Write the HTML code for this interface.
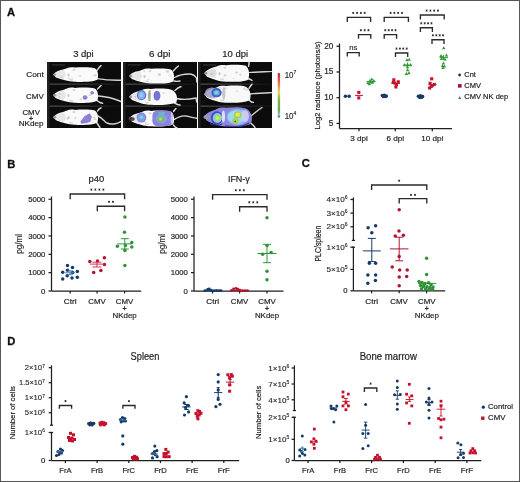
<!DOCTYPE html><html><head><meta charset="utf-8"><style>html,body{margin:0;padding:0;background:#fff;overflow:hidden}svg{display:block;will-change:transform}</style></head><body>
<svg width="520" height="482" viewBox="0 0 520 482" font-family='"Liberation Sans", sans-serif'>
<defs><filter id="bl" x="-10%" y="-10%" width="120%" height="120%"><feGaussianBlur stdDeviation="0.5"/></filter><filter id="bl3" x="-30%" y="-30%" width="160%" height="160%"><feGaussianBlur stdDeviation="0.7"/></filter><filter id="bl4" x="-30%" y="-30%" width="160%" height="160%"><feGaussianBlur stdDeviation="1.1"/></filter><linearGradient id="sepg" x1="0" y1="0" x2="1" y2="0"><stop offset="0" stop-color="#4a4a4a"/><stop offset="0.5" stop-color="#333"/><stop offset="0.85" stop-color="#1a1a1a"/><stop offset="1" stop-color="#141414"/></linearGradient></defs>
<rect x="0" y="0" width="520" height="482" fill="#fff"/>
<text x="7" y="15.7" font-size="11.2" text-anchor="start" font-weight="bold" fill="#111" stroke="#111" stroke-width="0.3">A</text>
<text x="7.2" y="167.6" font-size="11.2" text-anchor="start" font-weight="bold" fill="#111" stroke="#111" stroke-width="0.3">B</text>
<text x="301.8" y="167.2" font-size="11.2" text-anchor="start" font-weight="bold" fill="#111" stroke="#111" stroke-width="0.3">C</text>
<text x="7.2" y="345.1" font-size="11.2" text-anchor="start" font-weight="bold" fill="#111" stroke="#111" stroke-width="0.3">D</text>
<rect x="47" y="62" width="74" height="66" fill="#0c0c0c"/>
<rect x="47" y="62" width="2.5" height="66" fill="#202020"/>
<rect x="49.5" y="83.5" width="71.5" height="1.3" fill="url(#sepg)"/>
<rect x="49.5" y="105.5" width="71.5" height="1.3" fill="url(#sepg)"/>
<rect x="52" y="64.6" width="13" height="0.7" fill="#666" opacity="0.7"/>
<rect x="123" y="62" width="74" height="66" fill="#0c0c0c"/>
<rect x="123" y="62" width="2.5" height="66" fill="#202020"/>
<rect x="125.5" y="83.5" width="71.5" height="1.3" fill="url(#sepg)"/>
<rect x="125.5" y="105.5" width="71.5" height="1.3" fill="url(#sepg)"/>
<rect x="128" y="64.6" width="13" height="0.7" fill="#666" opacity="0.7"/>
<rect x="198" y="62" width="74" height="66" fill="#0c0c0c"/>
<rect x="198" y="62" width="2.5" height="66" fill="#202020"/>
<rect x="200.5" y="83.5" width="71.5" height="1.3" fill="url(#sepg)"/>
<rect x="200.5" y="105.5" width="71.5" height="1.3" fill="url(#sepg)"/>
<rect x="203" y="64.6" width="13" height="0.7" fill="#666" opacity="0.7"/>
<g transform="translate(47 62)">
<path d="M50 16.6 C56 17.6 62 18.4 74 18.2" fill="none" stroke="#d4d4d4" stroke-width="1.4" stroke-linecap="round" filter="url(#bl)"/>
<path d="M50 8.4 L52.5 5 L54 3.6" fill="none" stroke="#d6d6d6" stroke-width="1.5" stroke-linecap="round" filter="url(#bl)"/>
<path d="M5.8 12.6 C7.8 11.0 9 9.45 13 8.26 C16 7.56 18 7.00 20 6.16 C22 5.18 25 5.18 28 5.60 C35 5.11 43 4.97 47.8 6.16 C51.5 8.26 51.8 14.70 50.3 17.85 C46 20.02 36 20.23 28 19.81 C24 19.60 21 19.25 18 18.34 C15 17.64 12 16.80 9 15.54 C7.8 14.2 5.8 12.6 5.8 12.6Z" fill="#fafafa" filter="url(#bl)"/>
<ellipse cx="33.0" cy="14.0" rx="1.6" ry="0.7" fill="#9c9c9c" opacity="0.43" filter="url(#bl)"/>
<ellipse cx="21.4" cy="16.3" rx="1.6" ry="0.8" fill="#9c9c9c" opacity="0.31" filter="url(#bl)"/>
<ellipse cx="14.6" cy="15.1" rx="1.4" ry="0.9" fill="#9c9c9c" opacity="0.29" filter="url(#bl)"/>
<ellipse cx="25.1" cy="16.5" rx="1.4" ry="1.1" fill="#9c9c9c" opacity="0.21" filter="url(#bl)"/>
<ellipse cx="48.2" cy="13.2" rx="1.8" ry="1.2" fill="#9c9c9c" opacity="0.33" filter="url(#bl)"/>
<path d="M5.8 12.6 C9 10.1 13 8.399999999999999 17 7.8 L19 12.6 L17 17.4 C13 16.8 9 15.1 5.8 12.6Z" fill="#9a9a9a" opacity="0.19" filter="url(#bl3)"/>
<ellipse cx="7.5" cy="12.6" rx="1.8" ry="1.2" fill="#555" opacity="0.5" filter="url(#bl)"/>
<ellipse cx="21.5" cy="12.9" rx="1.0" ry="1.6" fill="#888" opacity="0.45" filter="url(#bl)"/>
<ellipse cx="27" cy="7.70" rx="1.6" ry="1" fill="#aaa" opacity="0.45" filter="url(#bl)"/>
<ellipse cx="24" cy="17.85" rx="2" ry="0.9" fill="#aaa" opacity="0.4" filter="url(#bl)"/>
</g>
<g transform="translate(47 84)">
<path d="M51.5 12 C58 12.5 66 14 74 17.5" fill="none" stroke="#d4d4d4" stroke-width="1.4" stroke-linecap="round" filter="url(#bl)"/>
<path d="M50.5 5 L52.5 3 L54 1.5" fill="none" stroke="#d6d6d6" stroke-width="1.5" stroke-linecap="round" filter="url(#bl)"/>
<path d="M50 16.5 L53 18.5 L55.5 19.2" fill="none" stroke="#d6d6d6" stroke-width="1.5" stroke-linecap="round" filter="url(#bl)"/>
<path d="M5.8 11.2 C7.8 9.6 9 7.91 13 6.67 C16 5.94 18 5.36 20 4.48 C22 3.46 25 3.46 28 3.90 C35 3.39 43 3.24 47.8 4.48 C51.5 6.67 51.8 13.39 50.3 16.67 C46 18.94 36 19.16 28 18.72 C24 18.50 21 18.13 18 17.19 C15 16.46 12 15.58 9 14.27 C7.8 12.799999999999999 5.8 11.2 5.8 11.2Z" fill="#fafafa" filter="url(#bl)"/>
<ellipse cx="43.6" cy="10.9" rx="0.9" ry="1.2" fill="#9c9c9c" opacity="0.27" filter="url(#bl)"/>
<ellipse cx="12.5" cy="13.1" rx="1.1" ry="1.0" fill="#9c9c9c" opacity="0.26" filter="url(#bl)"/>
<ellipse cx="42.6" cy="11.0" rx="1.9" ry="0.8" fill="#9c9c9c" opacity="0.27" filter="url(#bl)"/>
<ellipse cx="12.6" cy="10.0" rx="1.2" ry="0.7" fill="#9c9c9c" opacity="0.29" filter="url(#bl)"/>
<ellipse cx="33.8" cy="15.2" rx="1.1" ry="1.2" fill="#9c9c9c" opacity="0.32" filter="url(#bl)"/>
<path d="M5.8 11.2 C9 8.7 13 6.999999999999999 17 6.3999999999999995 L19 11.2 L17 16.0 C13 15.399999999999999 9 13.7 5.8 11.2Z" fill="#9a9a9a" opacity="0.19" filter="url(#bl3)"/>
<ellipse cx="7.5" cy="11.2" rx="1.8" ry="1.2" fill="#555" opacity="0.5" filter="url(#bl)"/>
<ellipse cx="21.5" cy="11.5" rx="1.0" ry="1.6" fill="#888" opacity="0.45" filter="url(#bl)"/>
<ellipse cx="27" cy="6.09" rx="1.6" ry="1" fill="#aaa" opacity="0.45" filter="url(#bl)"/>
<ellipse cx="24" cy="16.67" rx="2" ry="0.9" fill="#aaa" opacity="0.4" filter="url(#bl)"/>
</g>
<g transform="translate(47 106)">
<path d="M51 10 C55 12 57 15 60 17 C64 19 70 18 74 15.5" fill="none" stroke="#d4d4d4" stroke-width="1.4" stroke-linecap="round" filter="url(#bl)"/>
<path d="M50.5 5 L52 3 L54 1.8" fill="none" stroke="#d6d6d6" stroke-width="1.5" stroke-linecap="round" filter="url(#bl)"/>
<path d="M50 17 L51.5 19.5 L53 21.5" fill="none" stroke="#d6d6d6" stroke-width="1.5" stroke-linecap="round" filter="url(#bl)"/>
<path d="M5.8 11.2 C7.8 9.6 9 7.91 13 6.67 C16 5.94 18 5.36 20 4.48 C22 3.46 25 3.46 28 3.90 C35 3.39 43 3.24 47.8 4.48 C51.5 6.67 51.8 13.39 50.3 16.67 C46 18.94 36 19.16 28 18.72 C24 18.50 21 18.13 18 17.19 C15 16.46 12 15.58 9 14.27 C7.8 12.799999999999999 5.8 11.2 5.8 11.2Z" fill="#fafafa" filter="url(#bl)"/>
<ellipse cx="47.0" cy="11.4" rx="1.8" ry="0.6" fill="#9c9c9c" opacity="0.35" filter="url(#bl)"/>
<ellipse cx="41.2" cy="11.7" rx="1.4" ry="0.7" fill="#9c9c9c" opacity="0.34" filter="url(#bl)"/>
<ellipse cx="20.6" cy="12.8" rx="1.3" ry="1.0" fill="#9c9c9c" opacity="0.33" filter="url(#bl)"/>
<ellipse cx="48.0" cy="13.2" rx="1.3" ry="0.6" fill="#9c9c9c" opacity="0.45" filter="url(#bl)"/>
<ellipse cx="28.3" cy="11.9" rx="1.2" ry="1.1" fill="#9c9c9c" opacity="0.33" filter="url(#bl)"/>
<path d="M5.8 11.2 C9 8.7 13 6.999999999999999 17 6.3999999999999995 L19 11.2 L17 16.0 C13 15.399999999999999 9 13.7 5.8 11.2Z" fill="#9a9a9a" opacity="0.19" filter="url(#bl3)"/>
<ellipse cx="7.5" cy="11.2" rx="1.8" ry="1.2" fill="#555" opacity="0.5" filter="url(#bl)"/>
<ellipse cx="21.5" cy="11.5" rx="1.0" ry="1.6" fill="#888" opacity="0.45" filter="url(#bl)"/>
<ellipse cx="27" cy="6.09" rx="1.6" ry="1" fill="#aaa" opacity="0.45" filter="url(#bl)"/>
<ellipse cx="24" cy="16.67" rx="2" ry="0.9" fill="#aaa" opacity="0.4" filter="url(#bl)"/>
</g>
<g transform="translate(123 62)">
<path d="M51.5 15.5 C56 13 60 12 66 12 C70 12 72 13.5 73.5 16 L73.8 20" fill="none" stroke="#d4d4d4" stroke-width="1.4" stroke-linecap="round" filter="url(#bl)"/>
<path d="M50.3 9 L53 6 L55.4 4" fill="none" stroke="#d6d6d6" stroke-width="1.5" stroke-linecap="round" filter="url(#bl)"/>
<path d="M51 19 L54 19.5 L57 19" fill="none" stroke="#d6d6d6" stroke-width="1.5" stroke-linecap="round" filter="url(#bl)"/>
<path d="M5.8 14.0 C7.8 12.4 9 10.76 13 9.54 C16 8.82 18 8.24 20 7.38 C22 6.37 25 6.37 28 6.80 C35 6.30 43 6.15 47.8 7.38 C51.5 9.54 51.8 16.16 50.3 19.40 C46 21.63 36 21.85 28 21.42 C24 21.20 21 20.84 18 19.90 C15 19.18 12 18.32 9 17.02 C7.8 15.6 5.8 14.0 5.8 14.0Z" fill="#fafafa" filter="url(#bl)"/>
<ellipse cx="36.3" cy="12.6" rx="1.7" ry="1.3" fill="#9c9c9c" opacity="0.41" filter="url(#bl)"/>
<ellipse cx="44.5" cy="9.5" rx="1.7" ry="1.2" fill="#9c9c9c" opacity="0.40" filter="url(#bl)"/>
<ellipse cx="46.9" cy="13.5" rx="1.1" ry="1.3" fill="#9c9c9c" opacity="0.23" filter="url(#bl)"/>
<ellipse cx="21.4" cy="9.2" rx="0.8" ry="1.0" fill="#9c9c9c" opacity="0.42" filter="url(#bl)"/>
<ellipse cx="25.2" cy="17.4" rx="1.5" ry="0.7" fill="#9c9c9c" opacity="0.21" filter="url(#bl)"/>
<path d="M5.8 14.0 C9 11.5 13 9.8 17 9.2 L19 14.0 L17 18.8 C13 18.2 9 16.5 5.8 14.0Z" fill="#9a9a9a" opacity="0.19" filter="url(#bl3)"/>
<ellipse cx="7.5" cy="14.0" rx="1.8" ry="1.2" fill="#555" opacity="0.5" filter="url(#bl)"/>
<ellipse cx="21.5" cy="14.3" rx="1.0" ry="1.6" fill="#888" opacity="0.45" filter="url(#bl)"/>
<ellipse cx="27" cy="8.96" rx="1.6" ry="1" fill="#aaa" opacity="0.45" filter="url(#bl)"/>
<ellipse cx="24" cy="19.40" rx="2" ry="0.9" fill="#aaa" opacity="0.4" filter="url(#bl)"/>
</g>
<g transform="translate(123 84)">
<path d="M53 14.5 C60 16 66 15.5 73 14 L73.8 18" fill="none" stroke="#d4d4d4" stroke-width="1.4" stroke-linecap="round" filter="url(#bl)"/>
<path d="M52 6.5 L55 4 L58 2.5" fill="none" stroke="#d6d6d6" stroke-width="1.5" stroke-linecap="round" filter="url(#bl)"/>
<path d="M51.5 19 L54.5 20.5 L57 21" fill="none" stroke="#d6d6d6" stroke-width="1.5" stroke-linecap="round" filter="url(#bl)"/>
<path d="M5.8 12.8 C7.8 11.200000000000001 9 9.29 13 7.96 C16 7.18 18 6.56 20 5.62 C22 4.53 25 4.53 28 5.00 C35 4.45 43 4.30 47.8 5.62 C54.5 7.96 54.8 15.14 53.3 18.65 C46 21.07 36 21.30 28 20.83 C24 20.60 21 20.21 18 19.20 C15 18.42 12 17.48 9 16.08 C7.8 14.4 5.8 12.8 5.8 12.8Z" fill="#fafafa" filter="url(#bl)"/>
<ellipse cx="26.4" cy="16.3" rx="1.9" ry="0.8" fill="#9c9c9c" opacity="0.43" filter="url(#bl)"/>
<ellipse cx="23.3" cy="10.4" rx="1.3" ry="0.9" fill="#9c9c9c" opacity="0.32" filter="url(#bl)"/>
<ellipse cx="22.0" cy="13.7" rx="1.6" ry="0.7" fill="#9c9c9c" opacity="0.37" filter="url(#bl)"/>
<ellipse cx="12.5" cy="12.8" rx="0.8" ry="1.2" fill="#9c9c9c" opacity="0.44" filter="url(#bl)"/>
<ellipse cx="40.5" cy="8.8" rx="1.9" ry="0.7" fill="#9c9c9c" opacity="0.28" filter="url(#bl)"/>
<path d="M5.8 12.8 C9 10.3 13 8.600000000000001 17 8.0 L19 12.8 L17 17.6 C13 17.0 9 15.3 5.8 12.8Z" fill="#9a9a9a" opacity="0.19" filter="url(#bl3)"/>
<ellipse cx="7.5" cy="12.8" rx="1.8" ry="1.2" fill="#555" opacity="0.5" filter="url(#bl)"/>
<ellipse cx="21.5" cy="13.100000000000001" rx="1.0" ry="1.6" fill="#888" opacity="0.45" filter="url(#bl)"/>
<ellipse cx="27" cy="7.34" rx="1.6" ry="1" fill="#aaa" opacity="0.45" filter="url(#bl)"/>
<ellipse cx="24" cy="18.65" rx="2" ry="0.9" fill="#aaa" opacity="0.4" filter="url(#bl)"/>
</g>
<g transform="translate(123 106)">
<path d="M51 13.6 C55 11 60 9.5 63 10 C67 10.5 70 12 74 12.2" fill="none" stroke="#d4d4d4" stroke-width="1.4" stroke-linecap="round" filter="url(#bl)"/>
<path d="M50.5 5.5 L52 3.5 L53 2.5" fill="none" stroke="#d6d6d6" stroke-width="1.5" stroke-linecap="round" filter="url(#bl)"/>
<path d="M50.5 19 L52 21 L54 22" fill="none" stroke="#d6d6d6" stroke-width="1.5" stroke-linecap="round" filter="url(#bl)"/>
<path d="M5.8 12.5 C7.8 10.9 9 9.08 13 7.79 C16 7.03 18 6.42 20 5.51 C22 4.44 25 4.44 28 4.90 C35 4.37 43 4.22 47.8 5.51 C51.5 7.79 51.8 14.78 50.3 18.20 C46 20.56 36 20.78 28 20.33 C24 20.10 21 19.72 18 18.73 C15 17.97 12 17.06 9 15.69 C7.8 14.1 5.8 12.5 5.8 12.5Z" fill="#fafafa" filter="url(#bl)"/>
<ellipse cx="35.8" cy="15.9" rx="1.8" ry="0.7" fill="#9c9c9c" opacity="0.21" filter="url(#bl)"/>
<ellipse cx="32.1" cy="8.3" rx="1.4" ry="0.7" fill="#9c9c9c" opacity="0.42" filter="url(#bl)"/>
<ellipse cx="30.0" cy="14.2" rx="1.8" ry="0.7" fill="#9c9c9c" opacity="0.30" filter="url(#bl)"/>
<ellipse cx="13.9" cy="9.6" rx="1.5" ry="1.1" fill="#9c9c9c" opacity="0.34" filter="url(#bl)"/>
<ellipse cx="22.7" cy="16.6" rx="1.4" ry="0.7" fill="#9c9c9c" opacity="0.35" filter="url(#bl)"/>
<path d="M5.8 12.5 C9 10.0 13 8.3 17 7.7 L19 12.5 L17 17.3 C13 16.7 9 15.0 5.8 12.5Z" fill="#9a9a9a" opacity="0.19" filter="url(#bl3)"/>
<ellipse cx="7.5" cy="12.5" rx="1.8" ry="1.2" fill="#555" opacity="0.5" filter="url(#bl)"/>
<ellipse cx="21.5" cy="12.8" rx="1.0" ry="1.6" fill="#888" opacity="0.45" filter="url(#bl)"/>
<ellipse cx="27" cy="7.18" rx="1.6" ry="1" fill="#aaa" opacity="0.45" filter="url(#bl)"/>
<ellipse cx="24" cy="18.20" rx="2" ry="0.9" fill="#aaa" opacity="0.4" filter="url(#bl)"/>
</g>
<g transform="translate(198 62)">
<path d="M51 10.7 C58 10.2 66 9.5 74 9.2" fill="none" stroke="#d4d4d4" stroke-width="1.4" stroke-linecap="round" filter="url(#bl)"/>
<path d="M50.5 4.5 L51 2 L51.2 0" fill="none" stroke="#d6d6d6" stroke-width="1.5" stroke-linecap="round" filter="url(#bl)"/>
<path d="M50 16.5 L52.5 17.5 L54 18.5" fill="none" stroke="#d6d6d6" stroke-width="1.5" stroke-linecap="round" filter="url(#bl)"/>
<path d="M5.8 11.3 C7.8 9.700000000000001 9 7.66 13 6.28 C16 5.47 18 4.82 20 3.85 C22 2.71 25 2.71 28 3.20 C35 2.63 43 2.47 47.8 3.85 C51.5 6.28 51.8 13.73 50.3 17.38 C46 19.89 36 20.13 28 19.64 C24 19.40 21 19.00 18 17.94 C15 17.13 12 16.16 9 14.70 C7.8 12.9 5.8 11.3 5.8 11.3Z" fill="#f8f8f8" filter="url(#bl)"/>
<ellipse cx="14.0" cy="12.0" rx="1.8" ry="1.1" fill="#9c9c9c" opacity="0.34" filter="url(#bl)"/>
<ellipse cx="35.5" cy="16.5" rx="0.8" ry="0.6" fill="#9c9c9c" opacity="0.39" filter="url(#bl)"/>
<ellipse cx="38.5" cy="10.6" rx="1.6" ry="1.0" fill="#9c9c9c" opacity="0.38" filter="url(#bl)"/>
<ellipse cx="42.4" cy="12.7" rx="1.1" ry="1.1" fill="#9c9c9c" opacity="0.38" filter="url(#bl)"/>
<ellipse cx="27.0" cy="13.4" rx="1.4" ry="1.1" fill="#9c9c9c" opacity="0.41" filter="url(#bl)"/>
<path d="M5.8 11.3 C9 8.8 13 7.1000000000000005 17 6.500000000000001 L19 11.3 L17 16.1 C13 15.5 9 13.8 5.8 11.3Z" fill="#9a9a9a" opacity="0.27" filter="url(#bl3)"/>
<ellipse cx="7.5" cy="11.3" rx="1.8" ry="1.2" fill="#555" opacity="0.5" filter="url(#bl)"/>
<ellipse cx="21.5" cy="11.600000000000001" rx="1.0" ry="1.6" fill="#888" opacity="0.45" filter="url(#bl)"/>
<ellipse cx="27" cy="5.63" rx="1.6" ry="1" fill="#aaa" opacity="0.45" filter="url(#bl)"/>
<ellipse cx="24" cy="17.38" rx="2" ry="0.9" fill="#aaa" opacity="0.4" filter="url(#bl)"/>
</g>
<g transform="translate(198 84)">
<path d="M52 10 C58 9.5 66 9 74 8.5" fill="none" stroke="#d4d4d4" stroke-width="1.4" stroke-linecap="round" filter="url(#bl)"/>
<path d="M51 4.3 L52.5 2 L54 0.2" fill="none" stroke="#d6d6d6" stroke-width="1.5" stroke-linecap="round" filter="url(#bl)"/>
<path d="M51 16 L53.5 18 L55.5 18.5" fill="none" stroke="#d6d6d6" stroke-width="1.5" stroke-linecap="round" filter="url(#bl)"/>
<path d="M5.8 10.2 C7.8 8.6 9 6.51 13 5.12 C16 4.30 18 3.64 20 2.66 C22 1.51 25 1.51 28 2.00 C35 1.43 43 1.26 47.8 2.66 C53 5.12 53.3 12.66 51.8 16.35 C46 18.89 36 19.14 28 18.65 C24 18.40 21 17.99 18 16.92 C15 16.10 12 15.12 9 13.64 C7.8 11.799999999999999 5.8 10.2 5.8 10.2Z" fill="#f8f8f8" filter="url(#bl)"/>
<ellipse cx="48.9" cy="5.7" rx="1.8" ry="1.1" fill="#9c9c9c" opacity="0.26" filter="url(#bl)"/>
<ellipse cx="21.9" cy="4.2" rx="1.4" ry="1.3" fill="#9c9c9c" opacity="0.21" filter="url(#bl)"/>
<ellipse cx="17.8" cy="11.7" rx="1.8" ry="0.8" fill="#9c9c9c" opacity="0.35" filter="url(#bl)"/>
<ellipse cx="38.9" cy="7.2" rx="0.9" ry="0.6" fill="#9c9c9c" opacity="0.41" filter="url(#bl)"/>
<ellipse cx="46.5" cy="4.7" rx="1.4" ry="1.4" fill="#9c9c9c" opacity="0.26" filter="url(#bl)"/>
<path d="M5.8 10.2 C9 7.699999999999999 13 5.999999999999999 17 5.3999999999999995 L19 10.2 L17 15.0 C13 14.399999999999999 9 12.7 5.8 10.2Z" fill="#9a9a9a" opacity="0.27" filter="url(#bl3)"/>
<ellipse cx="7.5" cy="10.2" rx="1.8" ry="1.2" fill="#555" opacity="0.5" filter="url(#bl)"/>
<ellipse cx="21.5" cy="10.5" rx="1.0" ry="1.6" fill="#888" opacity="0.45" filter="url(#bl)"/>
<ellipse cx="27" cy="4.46" rx="1.6" ry="1" fill="#aaa" opacity="0.45" filter="url(#bl)"/>
<ellipse cx="24" cy="16.35" rx="2" ry="0.9" fill="#aaa" opacity="0.4" filter="url(#bl)"/>
</g>
<g transform="translate(198 106)">
<path d="M53 10 C57 7 60 4 64 1.5" fill="none" stroke="#d4d4d4" stroke-width="1.4" stroke-linecap="round" filter="url(#bl)"/>
<path d="M52 16.5 L55 19 L57 21.5" fill="none" stroke="#d6d6d6" stroke-width="1.5" stroke-linecap="round" filter="url(#bl)"/>
<path d="M5.8 11.0 C7.8 9.4 9 7.13 13 5.67 C16 4.81 18 4.12 20 3.09 C22 1.88 25 1.88 28 2.40 C35 1.80 43 1.63 47.8 3.09 C54 5.67 54.3 13.58 52.8 17.45 C46 20.12 36 20.37 28 19.86 C24 19.60 21 19.17 18 18.05 C15 17.19 12 16.16 9 14.61 C7.8 12.6 5.8 11.0 5.8 11.0Z" fill="#f0f0f0" filter="url(#bl)"/>
<ellipse cx="36.0" cy="15.1" rx="1.1" ry="0.6" fill="#9c9c9c" opacity="0.20" filter="url(#bl)"/>
<ellipse cx="15.0" cy="10.5" rx="1.7" ry="1.3" fill="#9c9c9c" opacity="0.38" filter="url(#bl)"/>
<ellipse cx="14.0" cy="13.6" rx="1.4" ry="1.0" fill="#9c9c9c" opacity="0.30" filter="url(#bl)"/>
<ellipse cx="36.0" cy="15.1" rx="1.6" ry="1.2" fill="#9c9c9c" opacity="0.20" filter="url(#bl)"/>
<ellipse cx="46.9" cy="13.8" rx="1.8" ry="1.3" fill="#9c9c9c" opacity="0.40" filter="url(#bl)"/>
<path d="M5.8 11.0 C9 8.5 13 6.8 17 6.2 L19 11.0 L17 15.8 C13 15.2 9 13.5 5.8 11.0Z" fill="#9a9a9a" opacity="0.18" filter="url(#bl3)"/>
<ellipse cx="7.5" cy="11.0" rx="1.8" ry="1.2" fill="#555" opacity="0.5" filter="url(#bl)"/>
<ellipse cx="21.5" cy="11.3" rx="1.0" ry="1.6" fill="#888" opacity="0.45" filter="url(#bl)"/>
<ellipse cx="27" cy="4.98" rx="1.6" ry="1" fill="#aaa" opacity="0.45" filter="url(#bl)"/>
<ellipse cx="24" cy="17.45" rx="2" ry="0.9" fill="#aaa" opacity="0.4" filter="url(#bl)"/>
</g>
<ellipse cx="85.10" cy="97.50" rx="2.4" ry="2.2" fill="#8a82d8" opacity="1.0" filter="url(#bl3)"/>
<ellipse cx="92.20" cy="92.80" rx="1.9" ry="1.7" fill="#8a82d8" opacity="1.0" filter="url(#bl3)"/>
<path d="M80.4 121.5 L84.7 116 L89.7 113.2 L91.8 116.7 L90.4 121.7 L86.8 123.1 L81.1 123.8Z" fill="#8a82d8" filter="url(#bl3)"/>
<ellipse cx="141.50" cy="95.20" rx="4.6" ry="5.1" fill="#5a6ed4" opacity="1.0" filter="url(#bl3)"/>
<ellipse cx="141.50" cy="95.20" rx="3.4" ry="3.9" fill="#84b2ea" opacity="1.0" filter="url(#bl3)"/>
<ellipse cx="141.20" cy="94.90" rx="1.8" ry="2.0" fill="#9ccaf0" opacity="1.0" filter="url(#bl3)"/>
<ellipse cx="149.40" cy="95.80" rx="1.4" ry="5.4" fill="#8c9480" opacity="0.75" filter="url(#bl3)"/>
<ellipse cx="157.00" cy="95.80" rx="3.4" ry="5.0" fill="#7a72d2" opacity="1.0" filter="url(#bl3)"/>
<ellipse cx="131.50" cy="119.00" rx="3.2" ry="2.0" fill="#3a3030" opacity="0.85" filter="url(#bl3)"/>
<ellipse cx="141.50" cy="117.60" rx="4.8" ry="5.0" fill="#8a84dc" opacity="1.0" filter="url(#bl3)"/>
<ellipse cx="141.50" cy="117.60" rx="3.4" ry="3.6" fill="#76a6e6" opacity="1.0" filter="url(#bl3)"/>
<ellipse cx="141.30" cy="117.20" rx="1.8" ry="1.8" fill="#8cd0ee" opacity="0.9" filter="url(#bl3)"/>
<rect x="152.4" y="110.8" width="20.5" height="15.3" rx="4.5" ry="5" fill="#8a84de" filter="url(#bl3)"/>
<ellipse cx="161.60" cy="113.20" rx="3.5" ry="1.8" fill="#60c0c8" opacity="0.9" filter="url(#bl3)"/>
<ellipse cx="161.50" cy="118.80" rx="5.5" ry="4.6" fill="#8aa4e6" opacity="0.9" filter="url(#bl3)"/>
<ellipse cx="160.80" cy="118.80" rx="3.4" ry="3.4" fill="#66b890" opacity="1.0" filter="url(#bl3)"/>
<ellipse cx="160.60" cy="118.80" rx="2.0" ry="2.0" fill="#a6cc48" opacity="1.0" filter="url(#bl3)"/>
<ellipse cx="160.40" cy="119.20" rx="1.0" ry="1.0" fill="#d8d840" opacity="1.0" filter="url(#bl3)"/>
<ellipse cx="171.80" cy="118.50" rx="1.2" ry="6.5" fill="#d8d4f0" opacity="0.8" filter="url(#bl3)"/>
<ellipse cx="212.00" cy="92.70" rx="7.0" ry="5.2" fill="#a0a0cc" opacity="0.85" filter="url(#bl3)"/>
<ellipse cx="216.50" cy="92.70" rx="5.2" ry="4.6" fill="#4a56cc" opacity="1.0" filter="url(#bl3)"/>
<ellipse cx="216.50" cy="92.70" rx="3.2" ry="2.8" fill="#5ab8d0" opacity="1.0" filter="url(#bl3)"/>
<ellipse cx="216.30" cy="92.60" rx="1.5" ry="1.4" fill="#88d8d8" opacity="1.0" filter="url(#bl3)"/>
<ellipse cx="223.80" cy="93.50" rx="1.6" ry="6.5" fill="#b0b0b8" opacity="0.7" filter="url(#bl3)"/>
<g transform="translate(198 106)"><path d="M5.8 11.0 C7.8 9.4 9 6.86 13 5.30 C16 4.38 18 3.64 20 2.54 C22 1.25 25 1.25 28 1.80 C35 1.16 43 0.97 47.8 2.54 C54 5.30 54.3 13.76 52.8 17.90 C46 20.75 36 21.03 28 20.48 C24 20.20 21 19.74 18 18.54 C15 17.62 12 16.52 9 14.86 C7.8 12.6 5.8 11.0 5.8 11.0Z" fill="#8a86e2" filter="url(#bl3)"/></g>
<ellipse cx="206.50" cy="117.00" rx="3.0" ry="2.0" fill="#9a9aaa" opacity="0.9" filter="url(#bl3)"/>
<ellipse cx="216.80" cy="117.80" rx="6.0" ry="6.6" fill="#4c44c0" opacity="1.0" filter="url(#bl3)"/>
<ellipse cx="217.30" cy="118.00" rx="4.6" ry="4.9" fill="#72d2e4" opacity="1.0" filter="url(#bl3)"/>
<ellipse cx="217.60" cy="118.10" rx="3.0" ry="3.0" fill="#a8d868" opacity="1.0" filter="url(#bl3)"/>
<ellipse cx="217.60" cy="118.10" rx="1.8" ry="1.8" fill="#e0e448" opacity="1.0" filter="url(#bl3)"/>
<ellipse cx="223.40" cy="116.40" rx="1.7" ry="6.0" fill="#e4e2f4" opacity="0.95" filter="url(#bl3)"/>
<ellipse cx="237.50" cy="117.00" rx="11.0" ry="8.0" fill="#8cb8ee" opacity="1.0" filter="url(#bl3)"/>
<ellipse cx="236.50" cy="117.00" rx="8.5" ry="6.5" fill="#9edcea" opacity="1.0" filter="url(#bl3)"/>
<ellipse cx="245.00" cy="116.00" rx="4.0" ry="6" fill="#d2cef2" opacity="0.85" filter="url(#bl3)"/>
<ellipse cx="237.80" cy="114.70" rx="4.0" ry="3.5" fill="#98d070" opacity="1.0" filter="url(#bl3)"/>
<ellipse cx="237.80" cy="114.70" rx="2.4" ry="2.1" fill="#f0e448" opacity="1.0" filter="url(#bl3)"/>
<ellipse cx="235.50" cy="121.00" rx="3.4" ry="3.0" fill="#98cc68" opacity="1.0" filter="url(#bl3)"/>
<ellipse cx="235.50" cy="121.00" rx="2.0" ry="1.8" fill="#e0d040" opacity="1.0" filter="url(#bl3)"/>
<ellipse cx="235.30" cy="121.40" rx="0.9" ry="0.9" fill="#6a4a18" opacity="1.0" filter="url(#bl3)"/>
<path d="M225 125.8 C234 127 244 126.5 249 123" fill="none" stroke="#3a30a8" stroke-width="1.2" filter="url(#bl)"/>
<path d="M210 123.5 C214 125.5 219 125.5 222 124" fill="none" stroke="#3a30a8" stroke-width="1.0" filter="url(#bl)"/>
<text x="83.45" y="57" font-size="9.3" text-anchor="middle" font-weight="normal" fill="#262626" stroke="#262626" stroke-width="0.2" textLength="20.5" lengthAdjust="spacingAndGlyphs">3 dpi</text>
<text x="159.7" y="57" font-size="9.3" text-anchor="middle" font-weight="normal" fill="#262626" stroke="#262626" stroke-width="0.2" textLength="21.4" lengthAdjust="spacingAndGlyphs">6 dpi</text>
<text x="235.2" y="57" font-size="9.3" text-anchor="middle" font-weight="normal" fill="#262626" stroke="#262626" stroke-width="0.2" textLength="25.8" lengthAdjust="spacingAndGlyphs">10 dpi</text>
<text x="43.7" y="76.7" font-size="8" text-anchor="end" font-weight="normal" fill="#262626" stroke="#262626" stroke-width="0.2" textLength="17.5" lengthAdjust="spacingAndGlyphs">Cont</text>
<text x="43.7" y="98.7" font-size="8" text-anchor="end" font-weight="normal" fill="#262626" stroke="#262626" stroke-width="0.2" textLength="17.6" lengthAdjust="spacingAndGlyphs">CMV</text>
<text x="31.15" y="115.4" font-size="8" text-anchor="middle" font-weight="normal" fill="#262626" stroke="#262626" stroke-width="0.2" textLength="17.5" lengthAdjust="spacingAndGlyphs">CMV</text>
<text x="31.1" y="121.0" font-size="7" text-anchor="middle" font-weight="normal" fill="#262626" stroke="#262626" stroke-width="0.3">+</text>
<text x="31.15" y="125.9" font-size="8" text-anchor="middle" font-weight="normal" fill="#262626" stroke="#262626" stroke-width="0.2" textLength="24.9" lengthAdjust="spacingAndGlyphs">NKdep</text>
<defs><linearGradient id="cs" x1="0" y1="0" x2="0" y2="1"><stop offset="0" stop-color="#b82848"/><stop offset="0.12" stop-color="#d84858"/><stop offset="0.22" stop-color="#dc7840"/><stop offset="0.32" stop-color="#e0a848"/><stop offset="0.43" stop-color="#e8d468"/><stop offset="0.52" stop-color="#a8c450"/><stop offset="0.62" stop-color="#78b048"/><stop offset="0.85" stop-color="#68a860"/><stop offset="0.93" stop-color="#a8c0d8"/><stop offset="1" stop-color="#506890"/></linearGradient></defs>
<rect x="277.7" y="73.2" width="2.4" height="44.3" fill="url(#cs)"/>
<text x="284.7" y="77.6" font-size="8.6" fill="#262626" stroke="#262626" stroke-width="0.15" textLength="11.6" lengthAdjust="spacingAndGlyphs">10<tspan font-size="5.4" dy="-3.9">7</tspan></text>
<text x="284.7" y="118.8" font-size="8.6" fill="#262626" stroke="#262626" stroke-width="0.15" textLength="11.6" lengthAdjust="spacingAndGlyphs">10<tspan font-size="5.4" dy="-3.9">4</tspan></text>
<line x1="339.5" y1="43.6" x2="339.5" y2="128.5" stroke="#1e1e1e" stroke-width="1.25"/>
<line x1="336.5" y1="46.27" x2="339.5" y2="46.27" stroke="#1e1e1e" stroke-width="1.25"/>
<text x="333.3" y="48.67" font-size="8.2" text-anchor="end" font-weight="normal" fill="#262626" stroke="#262626" stroke-width="0.2">20</text>
<line x1="336.5" y1="71.985" x2="339.5" y2="71.985" stroke="#1e1e1e" stroke-width="1.25"/>
<text x="333.3" y="74.385" font-size="8.2" text-anchor="end" font-weight="normal" fill="#262626" stroke="#262626" stroke-width="0.2">15</text>
<line x1="336.5" y1="97.7" x2="339.5" y2="97.7" stroke="#1e1e1e" stroke-width="1.25"/>
<text x="333.3" y="100.10000000000001" font-size="8.2" text-anchor="end" font-weight="normal" fill="#262626" stroke="#262626" stroke-width="0.2">10</text>
<line x1="336.5" y1="123.415" x2="339.5" y2="123.415" stroke="#1e1e1e" stroke-width="1.25"/>
<text x="333.3" y="125.81500000000001" font-size="8.2" text-anchor="end" font-weight="normal" fill="#262626" stroke="#262626" stroke-width="0.2">5</text>
<line x1="339.5" y1="128.5" x2="452" y2="128.5" stroke="#1e1e1e" stroke-width="1.25"/>
<line x1="359" y1="128.5" x2="359" y2="131.2" stroke="#1e1e1e" stroke-width="1.25"/>
<line x1="395.3" y1="128.5" x2="395.3" y2="131.2" stroke="#1e1e1e" stroke-width="1.25"/>
<line x1="432.3" y1="128.5" x2="432.3" y2="131.2" stroke="#1e1e1e" stroke-width="1.25"/>
<text x="359" y="140.6" font-size="8.1" text-anchor="middle" font-weight="normal" fill="#262626" stroke="#262626" stroke-width="0.2">3 dpi</text>
<text x="395.3" y="140.6" font-size="8.1" text-anchor="middle" font-weight="normal" fill="#262626" stroke="#262626" stroke-width="0.2">6 dpi</text>
<text x="432.3" y="140.6" font-size="8.1" text-anchor="middle" font-weight="normal" fill="#262626" stroke="#262626" stroke-width="0.2">10 dpi</text>
<text x="0" y="0" transform="translate(319.9 85.4) rotate(-90)" font-size="8.0" text-anchor="middle" font-weight="normal" fill="#262626" stroke="#262626" stroke-width="0.2" textLength="88" lengthAdjust="spacingAndGlyphs">Log2 radiance (photons/s)</text>
<line x1="345.4" y1="96.2" x2="349.2" y2="96.2" stroke="#163b68" stroke-width="1.0"/>
<circle cx="345.4" cy="96.2" r="1.75" fill="#163b68"/>
<circle cx="349.2" cy="96.2" r="1.75" fill="#163b68"/>
<line x1="355" y1="95.4" x2="363" y2="95.4" stroke="#c4142e" stroke-width="1.0"/>
<rect x="357.25" y="90.85" width="3.1" height="3.1" fill="#c4142e"/>
<rect x="357.25" y="96.35" width="3.1" height="3.1" fill="#c4142e"/>
<path d="M368.00 81.07L369.70 84.13L366.30 84.13Z" fill="#2e9a36"/>
<path d="M370.00 78.87L371.70 81.93L368.30 81.93Z" fill="#2e9a36"/>
<path d="M371.80 77.47L373.50 80.53L370.10 80.53Z" fill="#2e9a36"/>
<path d="M373.80 79.07L375.50 82.13L372.10 82.13Z" fill="#2e9a36"/>
<path d="M369.50 82.07L371.20 85.13L367.80 85.13Z" fill="#2e9a36"/>
<path d="M372.50 80.67L374.20 83.73L370.80 83.73Z" fill="#2e9a36"/>
<path d="M370.80 80.07L372.50 83.13L369.10 83.13Z" fill="#2e9a36"/>
<line x1="366.5" y1="81.5" x2="375.5" y2="81.5" stroke="#2e9a36" stroke-width="0.9"/>
<circle cx="382.3" cy="95.6" r="1.75" fill="#163b68"/>
<circle cx="384.3" cy="95.2" r="1.75" fill="#163b68"/>
<circle cx="386.3" cy="95.9" r="1.75" fill="#163b68"/>
<circle cx="383.4" cy="96.6" r="1.75" fill="#163b68"/>
<circle cx="385.5" cy="96.4" r="1.75" fill="#163b68"/>
<line x1="381" y1="96" x2="387.5" y2="96" stroke="#163b68" stroke-width="0.9"/>
<rect x="392.25" y="78.25" width="3.1" height="3.1" fill="#c4142e"/>
<rect x="396.75" y="80.25" width="3.1" height="3.1" fill="#c4142e"/>
<rect x="393.25" y="81.45" width="3.1" height="3.1" fill="#c4142e"/>
<rect x="394.95" y="82.95" width="3.1" height="3.1" fill="#c4142e"/>
<rect x="394.35" y="85.45" width="3.1" height="3.1" fill="#c4142e"/>
<rect x="391.65" y="80.95" width="3.1" height="3.1" fill="#c4142e"/>
<line x1="391.5" y1="83.5" x2="400" y2="83.5" stroke="#c4142e" stroke-width="0.9"/>
<path d="M407.00 58.07L408.70 61.13L405.30 61.13Z" fill="#2e9a36"/>
<path d="M409.20 57.67L410.90 60.73L407.50 60.73Z" fill="#2e9a36"/>
<path d="M404.60 63.07L406.30 66.13L402.90 66.13Z" fill="#2e9a36"/>
<path d="M407.50 62.87L409.20 65.93L405.80 65.93Z" fill="#2e9a36"/>
<path d="M410.50 63.07L412.20 66.13L408.80 66.13Z" fill="#2e9a36"/>
<path d="M407.40 65.07L409.10 68.13L405.70 68.13Z" fill="#2e9a36"/>
<path d="M407.60 68.07L409.30 71.13L405.90 71.13Z" fill="#2e9a36"/>
<path d="M406.40 71.87L408.10 74.93L404.70 74.93Z" fill="#2e9a36"/>
<path d="M409.00 71.07L410.70 74.13L407.30 74.13Z" fill="#2e9a36"/>
<line x1="403.2" y1="65.2" x2="412" y2="65.2" stroke="#2e9a36" stroke-width="1.0"/>
<line x1="407.6" y1="62.5" x2="407.6" y2="68" stroke="#2e9a36" stroke-width="0.9"/>
<circle cx="418.4" cy="96.3" r="1.75" fill="#163b68"/>
<circle cx="420.5" cy="95.8" r="1.75" fill="#163b68"/>
<circle cx="422.6" cy="96.5" r="1.75" fill="#163b68"/>
<circle cx="419.8" cy="97.4" r="1.75" fill="#163b68"/>
<circle cx="421.8" cy="97.2" r="1.75" fill="#163b68"/>
<line x1="417" y1="96.6" x2="424" y2="96.6" stroke="#163b68" stroke-width="0.9"/>
<rect x="430.15" y="77.25" width="3.1" height="3.1" fill="#c4142e"/>
<rect x="428.55" y="81.75" width="3.1" height="3.1" fill="#c4142e"/>
<rect x="432.75" y="82.85" width="3.1" height="3.1" fill="#c4142e"/>
<rect x="430.65" y="84.05" width="3.1" height="3.1" fill="#c4142e"/>
<rect x="428.05" y="86.45" width="3.1" height="3.1" fill="#c4142e"/>
<rect x="429.65" y="84.95" width="3.1" height="3.1" fill="#c4142e"/>
<line x1="428.5" y1="84.5" x2="436.5" y2="84.5" stroke="#c4142e" stroke-width="0.9"/>
<path d="M443.70 46.17L445.40 49.23L442.00 49.23Z" fill="#2e9a36"/>
<path d="M441.00 53.97L442.70 57.03L439.30 57.03Z" fill="#2e9a36"/>
<path d="M446.50 53.47L448.20 56.53L444.80 56.53Z" fill="#2e9a36"/>
<path d="M443.00 55.47L444.70 58.53L441.30 58.53Z" fill="#2e9a36"/>
<path d="M441.50 56.97L443.20 60.03L439.80 60.03Z" fill="#2e9a36"/>
<path d="M445.00 57.47L446.70 60.53L443.30 60.53Z" fill="#2e9a36"/>
<path d="M443.50 61.47L445.20 64.53L441.80 64.53Z" fill="#2e9a36"/>
<path d="M442.50 63.97L444.20 67.03L440.80 67.03Z" fill="#2e9a36"/>
<path d="M444.50 64.47L446.20 67.53L442.80 67.53Z" fill="#2e9a36"/>
<path d="M443.00 65.97L444.70 69.03L441.30 69.03Z" fill="#2e9a36"/>
<line x1="439.5" y1="57.4" x2="448" y2="57.4" stroke="#2e9a36" stroke-width="1.0"/>
<line x1="443.5" y1="55" x2="443.5" y2="60" stroke="#2e9a36" stroke-width="0.9"/>
<path d="M347.3 21.9V17.3H370.6V21.9" fill="none" stroke="#2a2a2a" stroke-width="1.35"/>
<path d="M353.25 11.85V13.95M352.34 12.38L354.16 13.43M352.34 13.43L354.16 12.38M357.05 11.85V13.95M356.14 12.38L357.96 13.43M356.14 13.43L357.96 12.38M360.85 11.85V13.95M359.94 12.38L361.76 13.43M359.94 13.43L361.76 12.38M364.65 11.85V13.95M363.74 12.38L365.56 13.43M363.74 13.43L365.56 12.38" stroke="#222" stroke-width="0.8" fill="none"/>
<path d="M384.2 21.9V17.3H408.4V21.9" fill="none" stroke="#2a2a2a" stroke-width="1.35"/>
<path d="M390.60 11.85V13.95M389.69 12.38L391.51 13.43M389.69 13.43L391.51 12.38M394.40 11.85V13.95M393.49 12.38L395.31 13.43M393.49 13.43L395.31 12.38M398.20 11.85V13.95M397.29 12.38L399.11 13.43M397.29 13.43L399.11 12.38M402.00 11.85V13.95M401.09 12.38L402.91 13.43M401.09 13.43L402.91 12.38" stroke="#222" stroke-width="0.8" fill="none"/>
<path d="M420.4 19.6V15.0H444.2V19.6" fill="none" stroke="#2a2a2a" stroke-width="1.35"/>
<path d="M426.60 9.55V11.65M425.69 10.07L427.51 11.12M425.69 11.12L427.51 10.07M430.40 9.55V11.65M429.49 10.07L431.31 11.12M429.49 11.12L431.31 10.07M434.20 9.55V11.65M433.29 10.07L435.11 11.12M433.29 11.12L435.11 10.07M438.00 9.55V11.65M437.09 10.07L438.91 11.12M437.09 11.12L438.91 10.07" stroke="#222" stroke-width="0.8" fill="none"/>
<path d="M358.5 38.800000000000004V34.6H370.8V38.800000000000004" fill="none" stroke="#2a2a2a" stroke-width="1.35"/>
<path d="M360.85 29.15V31.25M359.94 29.68L361.76 30.73M359.94 30.73L361.76 29.68M364.65 29.15V31.25M363.74 29.68L365.56 30.73M363.74 30.73L365.56 29.68M368.45 29.15V31.25M367.54 29.68L369.36 30.73M367.54 30.73L369.36 29.68" stroke="#222" stroke-width="0.8" fill="none"/>
<path d="M384.2 38.800000000000004V34.6H396.6V38.800000000000004" fill="none" stroke="#2a2a2a" stroke-width="1.35"/>
<path d="M385.30 29.15V31.25M384.39 29.68L386.21 30.73M384.39 30.73L386.21 29.68M388.70 29.15V31.25M387.79 29.68L389.61 30.73M387.79 30.73L389.61 29.68M392.10 29.15V31.25M391.19 29.68L393.01 30.73M391.19 30.73L393.01 29.68M395.50 29.15V31.25M394.59 29.68L396.41 30.73M394.59 30.73L396.41 29.68" stroke="#222" stroke-width="0.8" fill="none"/>
<path d="M420.4 32.1V27.7H432.4V32.1" fill="none" stroke="#2a2a2a" stroke-width="1.35"/>
<path d="M421.30 22.25V24.35M420.39 22.77L422.21 23.82M420.39 23.82L422.21 22.77M424.70 22.25V24.35M423.79 22.77L425.61 23.82M423.79 23.82L425.61 22.77M428.10 22.25V24.35M427.19 22.77L429.01 23.82M427.19 23.82L429.01 22.77M431.50 22.25V24.35M430.59 22.77L432.41 23.82M430.59 23.82L432.41 22.77" stroke="#222" stroke-width="0.8" fill="none"/>
<path d="M432.0 43.900000000000006V39.7H444.0V43.900000000000006" fill="none" stroke="#2a2a2a" stroke-width="1.35"/>
<path d="M432.90 34.25V36.35M431.99 34.78L433.81 35.83M431.99 35.83L433.81 34.78M436.30 34.25V36.35M435.39 34.78L437.21 35.83M435.39 35.83L437.21 34.78M439.70 34.25V36.35M438.79 34.78L440.61 35.83M438.79 35.83L440.61 34.78M443.10 34.25V36.35M442.19 34.78L444.01 35.83M442.19 35.83L444.01 34.78" stroke="#222" stroke-width="0.8" fill="none"/>
<path d="M347.3 56.6V52.6H359.2V56.6" fill="none" stroke="#2a2a2a" stroke-width="1.35"/>
<text x="353.25" y="50.2" font-size="7.6" text-anchor="middle" font-weight="normal" fill="#333" stroke="#333" stroke-width="0.2">ns</text>
<path d="M395.5 57.0V53.0H407.7V57.0" fill="none" stroke="#2a2a2a" stroke-width="1.35"/>
<path d="M396.50 47.55V49.65M395.59 48.08L397.41 49.12M395.59 49.12L397.41 48.08M399.90 47.55V49.65M398.99 48.08L400.81 49.12M398.99 49.12L400.81 48.08M403.30 47.55V49.65M402.39 48.08L404.21 49.12M402.39 49.12L404.21 48.08M406.70 47.55V49.65M405.79 48.08L407.61 49.12M405.79 49.12L407.61 48.08" stroke="#222" stroke-width="0.8" fill="none"/>
<circle cx="459.6" cy="75" r="1.4" fill="#1a3354"/>
<text x="464.3" y="77.2" font-size="7.5" text-anchor="start" font-weight="normal" fill="#262626" stroke="#262626" stroke-width="0.2" textLength="11.5" lengthAdjust="spacingAndGlyphs">Cnt</text>
<rect x="458.00" y="84.05" width="3.6" height="3.6" fill="#a81038"/>
<text x="464.3" y="88" font-size="7.5" text-anchor="start" font-weight="normal" fill="#262626" stroke="#262626" stroke-width="0.2">CMV</text>
<path d="M459.70 96.35L461.20 99.05L458.20 99.05Z" fill="#2c7a30"/>
<text x="464.3" y="99" font-size="7.5" text-anchor="start" font-weight="normal" fill="#262626" stroke="#262626" stroke-width="0.2" textLength="43.9" lengthAdjust="spacingAndGlyphs">CMV NK dep</text>
<line x1="51.5" y1="196.5" x2="51.5" y2="291" stroke="#1e1e1e" stroke-width="1.25"/>
<line x1="48.5" y1="291.0" x2="51.5" y2="291.0" stroke="#1e1e1e" stroke-width="1.25"/>
<text x="45.4" y="293.6" font-size="8.0" text-anchor="end" font-weight="normal" fill="#262626" stroke="#262626" stroke-width="0.2" textLength="4.3" lengthAdjust="spacingAndGlyphs">0</text>
<line x1="48.5" y1="272.65" x2="51.5" y2="272.65" stroke="#1e1e1e" stroke-width="1.25"/>
<text x="45.4" y="275.25" font-size="8.0" text-anchor="end" font-weight="normal" fill="#262626" stroke="#262626" stroke-width="0.2" textLength="17.2" lengthAdjust="spacingAndGlyphs">1000</text>
<line x1="48.5" y1="254.3" x2="51.5" y2="254.3" stroke="#1e1e1e" stroke-width="1.25"/>
<text x="45.4" y="256.90000000000003" font-size="8.0" text-anchor="end" font-weight="normal" fill="#262626" stroke="#262626" stroke-width="0.2" textLength="17.2" lengthAdjust="spacingAndGlyphs">2000</text>
<line x1="48.5" y1="235.95" x2="51.5" y2="235.95" stroke="#1e1e1e" stroke-width="1.25"/>
<text x="45.4" y="238.54999999999998" font-size="8.0" text-anchor="end" font-weight="normal" fill="#262626" stroke="#262626" stroke-width="0.2" textLength="17.2" lengthAdjust="spacingAndGlyphs">3000</text>
<line x1="48.5" y1="217.6" x2="51.5" y2="217.6" stroke="#1e1e1e" stroke-width="1.25"/>
<text x="45.4" y="220.2" font-size="8.0" text-anchor="end" font-weight="normal" fill="#262626" stroke="#262626" stroke-width="0.2" textLength="17.2" lengthAdjust="spacingAndGlyphs">4000</text>
<line x1="48.5" y1="199.25" x2="51.5" y2="199.25" stroke="#1e1e1e" stroke-width="1.25"/>
<text x="45.4" y="201.85" font-size="8.0" text-anchor="end" font-weight="normal" fill="#262626" stroke="#262626" stroke-width="0.2" textLength="17.2" lengthAdjust="spacingAndGlyphs">5000</text>
<line x1="51.5" y1="291" x2="141.2" y2="291" stroke="#1e1e1e" stroke-width="1.25"/>
<line x1="70.2" y1="291" x2="70.2" y2="293.5" stroke="#1e1e1e" stroke-width="1.25"/>
<line x1="97.1" y1="291" x2="97.1" y2="293.5" stroke="#1e1e1e" stroke-width="1.25"/>
<line x1="124.6" y1="291" x2="124.6" y2="293.5" stroke="#1e1e1e" stroke-width="1.25"/>
<text x="70.2" y="303.9" font-size="8" text-anchor="middle" font-weight="normal" fill="#262626" stroke="#262626" stroke-width="0.2" textLength="12.8" lengthAdjust="spacingAndGlyphs">Ctrl</text>
<text x="97.1" y="303.9" font-size="8" text-anchor="middle" font-weight="normal" fill="#262626" stroke="#262626" stroke-width="0.2" textLength="17.5" lengthAdjust="spacingAndGlyphs">CMV</text>
<text x="124.6" y="303.9" font-size="8" text-anchor="middle" font-weight="normal" fill="#262626" stroke="#262626" stroke-width="0.2" textLength="17.5" lengthAdjust="spacingAndGlyphs">CMV</text>
<text x="124.6" y="311.0" font-size="7" text-anchor="middle" font-weight="normal" fill="#262626" stroke="#262626" stroke-width="0.3">+</text>
<text x="124.6" y="318.2" font-size="8" text-anchor="middle" font-weight="normal" fill="#262626" stroke="#262626" stroke-width="0.2" textLength="24.2" lengthAdjust="spacingAndGlyphs">NKdep</text>
<text x="0" y="0" transform="translate(22.4 243.8) rotate(-90)" font-size="9.4" text-anchor="middle" font-weight="normal" fill="#262626" stroke="#262626" stroke-width="0.2" textLength="20" lengthAdjust="spacingAndGlyphs">pg/ml</text>
<text x="96.4" y="181.5" font-size="9.2" text-anchor="middle" font-weight="normal" fill="#262626" stroke="#262626" stroke-width="0.2" textLength="15.8" lengthAdjust="spacingAndGlyphs">p40</text>
<line x1="194.0" y1="196.5" x2="194.0" y2="291" stroke="#1e1e1e" stroke-width="1.25"/>
<line x1="191.0" y1="291.0" x2="194.0" y2="291.0" stroke="#1e1e1e" stroke-width="1.25"/>
<text x="187.9" y="293.6" font-size="8.0" text-anchor="end" font-weight="normal" fill="#262626" stroke="#262626" stroke-width="0.2" textLength="4.3" lengthAdjust="spacingAndGlyphs">0</text>
<line x1="191.0" y1="272.65" x2="194.0" y2="272.65" stroke="#1e1e1e" stroke-width="1.25"/>
<text x="187.9" y="275.25" font-size="8.0" text-anchor="end" font-weight="normal" fill="#262626" stroke="#262626" stroke-width="0.2" textLength="17.2" lengthAdjust="spacingAndGlyphs">1000</text>
<line x1="191.0" y1="254.3" x2="194.0" y2="254.3" stroke="#1e1e1e" stroke-width="1.25"/>
<text x="187.9" y="256.90000000000003" font-size="8.0" text-anchor="end" font-weight="normal" fill="#262626" stroke="#262626" stroke-width="0.2" textLength="17.2" lengthAdjust="spacingAndGlyphs">2000</text>
<line x1="191.0" y1="235.95" x2="194.0" y2="235.95" stroke="#1e1e1e" stroke-width="1.25"/>
<text x="187.9" y="238.54999999999998" font-size="8.0" text-anchor="end" font-weight="normal" fill="#262626" stroke="#262626" stroke-width="0.2" textLength="17.2" lengthAdjust="spacingAndGlyphs">3000</text>
<line x1="191.0" y1="217.6" x2="194.0" y2="217.6" stroke="#1e1e1e" stroke-width="1.25"/>
<text x="187.9" y="220.2" font-size="8.0" text-anchor="end" font-weight="normal" fill="#262626" stroke="#262626" stroke-width="0.2" textLength="17.2" lengthAdjust="spacingAndGlyphs">4000</text>
<line x1="191.0" y1="199.25" x2="194.0" y2="199.25" stroke="#1e1e1e" stroke-width="1.25"/>
<text x="187.9" y="201.85" font-size="8.0" text-anchor="end" font-weight="normal" fill="#262626" stroke="#262626" stroke-width="0.2" textLength="17.2" lengthAdjust="spacingAndGlyphs">5000</text>
<line x1="194.0" y1="291" x2="283.5" y2="291" stroke="#1e1e1e" stroke-width="1.25"/>
<line x1="212.6" y1="291" x2="212.6" y2="293.5" stroke="#1e1e1e" stroke-width="1.25"/>
<line x1="239.6" y1="291" x2="239.6" y2="293.5" stroke="#1e1e1e" stroke-width="1.25"/>
<line x1="267.0" y1="291" x2="267.0" y2="293.5" stroke="#1e1e1e" stroke-width="1.25"/>
<text x="212.6" y="303.9" font-size="8" text-anchor="middle" font-weight="normal" fill="#262626" stroke="#262626" stroke-width="0.2" textLength="12.8" lengthAdjust="spacingAndGlyphs">Ctrl</text>
<text x="239.6" y="303.9" font-size="8" text-anchor="middle" font-weight="normal" fill="#262626" stroke="#262626" stroke-width="0.2" textLength="17.5" lengthAdjust="spacingAndGlyphs">CMV</text>
<text x="267.0" y="303.9" font-size="8" text-anchor="middle" font-weight="normal" fill="#262626" stroke="#262626" stroke-width="0.2" textLength="17.5" lengthAdjust="spacingAndGlyphs">CMV</text>
<text x="267.0" y="311.0" font-size="7" text-anchor="middle" font-weight="normal" fill="#262626" stroke="#262626" stroke-width="0.3">+</text>
<text x="267.0" y="318.2" font-size="8" text-anchor="middle" font-weight="normal" fill="#262626" stroke="#262626" stroke-width="0.2" textLength="24.2" lengthAdjust="spacingAndGlyphs">NKdep</text>
<text x="0" y="0" transform="translate(164.7 243.8) rotate(-90)" font-size="9.4" text-anchor="middle" font-weight="normal" fill="#262626" stroke="#262626" stroke-width="0.2" textLength="20" lengthAdjust="spacingAndGlyphs">pg/ml</text>
<text x="238.85" y="181.5" font-size="9.2" text-anchor="middle" font-weight="normal" fill="#262626" stroke="#262626" stroke-width="0.2" textLength="21.9" lengthAdjust="spacingAndGlyphs">IFN-γ</text>
<circle cx="67.5" cy="265.4" r="1.75" fill="#163b68"/>
<circle cx="72.5" cy="267.5" r="1.75" fill="#163b68"/>
<circle cx="62.7" cy="272.3" r="1.75" fill="#163b68"/>
<circle cx="67.5" cy="270.2" r="1.75" fill="#163b68"/>
<circle cx="77.3" cy="271.5" r="1.75" fill="#163b68"/>
<circle cx="67.2" cy="275.7" r="1.75" fill="#163b68"/>
<circle cx="72" cy="277.9" r="1.75" fill="#163b68"/>
<circle cx="77.3" cy="277.3" r="1.75" fill="#163b68"/>
<circle cx="62.7" cy="279" r="1.75" fill="#163b68"/>
<circle cx="72.6" cy="272.6" r="1.75" fill="#163b68"/>
<line x1="65.1" y1="272.8" x2="75.1" y2="272.8" stroke="#4a82c0" stroke-width="1.0"/>
<line x1="70.1" y1="270.9" x2="70.1" y2="274.7" stroke="#4a82c0" stroke-width="1.0"/>
<line x1="67.6" y1="270.9" x2="72.6" y2="270.9" stroke="#4a82c0" stroke-width="1.0"/>
<line x1="67.6" y1="274.7" x2="72.6" y2="274.7" stroke="#4a82c0" stroke-width="1.0"/>
<circle cx="89.8" cy="261.5" r="1.75" fill="#b3132f"/>
<circle cx="97.5" cy="261" r="1.75" fill="#b3132f"/>
<circle cx="104.4" cy="257.7" r="1.75" fill="#b3132f"/>
<circle cx="104.4" cy="264.4" r="1.75" fill="#b3132f"/>
<circle cx="93.7" cy="272.5" r="1.75" fill="#b3132f"/>
<circle cx="100.9" cy="270.6" r="1.75" fill="#b3132f"/>
<line x1="89.9" y1="264.1" x2="103.9" y2="264.1" stroke="#d23a58" stroke-width="1.0"/>
<line x1="96.9" y1="262.2" x2="96.9" y2="267" stroke="#d23a58" stroke-width="1.0"/>
<line x1="92.4" y1="262.2" x2="101.4" y2="262.2" stroke="#d23a58" stroke-width="1.0"/>
<line x1="92.4" y1="267" x2="101.4" y2="267" stroke="#d23a58" stroke-width="1.0"/>
<circle cx="124.9" cy="217" r="1.75" fill="#2f9438"/>
<circle cx="124.5" cy="232.3" r="1.75" fill="#2f9438"/>
<circle cx="117.4" cy="246.2" r="1.75" fill="#2f9438"/>
<circle cx="125.4" cy="245.5" r="1.75" fill="#2f9438"/>
<circle cx="131.8" cy="242.6" r="1.75" fill="#2f9438"/>
<circle cx="131.8" cy="247.1" r="1.75" fill="#2f9438"/>
<circle cx="124.9" cy="250.6" r="1.75" fill="#2f9438"/>
<circle cx="124.9" cy="265.6" r="1.75" fill="#2f9438"/>
<line x1="117.3" y1="243.9" x2="132.3" y2="243.9" stroke="#2f9438" stroke-width="1.0"/>
<line x1="124.8" y1="238.7" x2="124.8" y2="249" stroke="#2f9438" stroke-width="1.0"/>
<line x1="120.8" y1="238.7" x2="128.8" y2="238.7" stroke="#2f9438" stroke-width="1.0"/>
<line x1="120.8" y1="249" x2="128.8" y2="249" stroke="#2f9438" stroke-width="1.0"/>
<path d="M70.2 199.3V194.0H124.6V199.3" fill="none" stroke="#2a2a2a" stroke-width="1.35"/>
<path d="M91.40 188.55V190.65M90.49 189.07L92.31 190.12M90.49 190.12L92.31 189.07M95.40 188.55V190.65M94.49 189.07L96.31 190.12M94.49 190.12L96.31 189.07M99.40 188.55V190.65M98.49 189.07L100.31 190.12M98.49 190.12L100.31 189.07M103.40 188.55V190.65M102.49 189.07L104.31 190.12M102.49 190.12L104.31 189.07" stroke="#222" stroke-width="0.8" fill="none"/>
<path d="M97.3 211.29999999999998V206.2H124.6V211.29999999999998" fill="none" stroke="#2a2a2a" stroke-width="1.35"/>
<path d="M108.95 200.75V202.85M108.04 201.27L109.86 202.32M108.04 202.32L109.86 201.27M112.95 200.75V202.85M112.04 201.27L113.86 202.32M112.04 202.32L113.86 201.27" stroke="#222" stroke-width="0.8" fill="none"/>
<circle cx="205" cy="290.6" r="1.45" fill="#163b68"/>
<circle cx="207.6" cy="289.4" r="1.45" fill="#163b68"/>
<circle cx="209.2" cy="289.0" r="1.45" fill="#163b68"/>
<circle cx="211.2" cy="290.2" r="1.45" fill="#163b68"/>
<circle cx="213.8" cy="290.6" r="1.45" fill="#163b68"/>
<circle cx="216.4" cy="290.5" r="1.45" fill="#163b68"/>
<circle cx="219" cy="290.6" r="1.45" fill="#163b68"/>
<circle cx="221" cy="290.6" r="1.45" fill="#163b68"/>
<line x1="204" y1="290.7" x2="222" y2="290.7" stroke="#163b68" stroke-width="1.0"/>
<circle cx="231.5" cy="290.5" r="1.45" fill="#b3132f"/>
<circle cx="233.6" cy="289.0" r="1.45" fill="#b3132f"/>
<circle cx="236" cy="288.4" r="1.45" fill="#b3132f"/>
<circle cx="237.8" cy="289.2" r="1.45" fill="#b3132f"/>
<circle cx="240" cy="290.2" r="1.45" fill="#b3132f"/>
<circle cx="242.5" cy="290.6" r="1.45" fill="#b3132f"/>
<circle cx="245" cy="290.6" r="1.45" fill="#b3132f"/>
<circle cx="247.5" cy="290.6" r="1.45" fill="#b3132f"/>
<line x1="230" y1="290.6" x2="249" y2="290.6" stroke="#b3132f" stroke-width="1.0"/>
<circle cx="267" cy="217.7" r="1.75" fill="#2f9438"/>
<circle cx="267" cy="245.5" r="1.75" fill="#2f9438"/>
<circle cx="262.6" cy="254.2" r="1.75" fill="#2f9438"/>
<circle cx="271.1" cy="252.4" r="1.75" fill="#2f9438"/>
<circle cx="267" cy="271.3" r="1.75" fill="#2f9438"/>
<circle cx="267" cy="279.8" r="1.75" fill="#2f9438"/>
<line x1="257.5" y1="253.5" x2="276.5" y2="253.5" stroke="#2f9438" stroke-width="1.0"/>
<line x1="267" y1="244.4" x2="267" y2="262.7" stroke="#2f9438" stroke-width="1.0"/>
<line x1="263" y1="244.4" x2="271" y2="244.4" stroke="#2f9438" stroke-width="1.0"/>
<line x1="263" y1="262.7" x2="271" y2="262.7" stroke="#2f9438" stroke-width="1.0"/>
<path d="M212.6 199.79999999999998V194.6H267.0V199.79999999999998" fill="none" stroke="#2a2a2a" stroke-width="1.35"/>
<path d="M235.80 189.15V191.25M234.89 189.67L236.71 190.72M234.89 190.72L236.71 189.67M239.80 189.15V191.25M238.89 189.67L240.71 190.72M238.89 190.72L240.71 189.67M243.80 189.15V191.25M242.89 189.67L244.71 190.72M242.89 190.72L244.71 189.67" stroke="#222" stroke-width="0.8" fill="none"/>
<path d="M239.6 211.79999999999998V206.7H267.0V211.79999999999998" fill="none" stroke="#2a2a2a" stroke-width="1.35"/>
<path d="M249.30 201.25V203.35M248.39 201.77L250.21 202.82M248.39 202.82L250.21 201.77M253.30 201.25V203.35M252.39 201.77L254.21 202.82M252.39 202.82L254.21 201.77M257.30 201.25V203.35M256.39 201.77L258.21 202.82M256.39 202.82L258.21 201.77" stroke="#222" stroke-width="0.8" fill="none"/>
<line x1="353.4" y1="197.4" x2="353.4" y2="240.4" stroke="#1e1e1e" stroke-width="1.25"/>
<line x1="351.79999999999995" y1="240.4" x2="355.0" y2="240.4" stroke="#1e1e1e" stroke-width="1.25"/>
<line x1="353.4" y1="247.2" x2="353.4" y2="290.8" stroke="#1e1e1e" stroke-width="1.25"/>
<line x1="351.79999999999995" y1="247.2" x2="355.0" y2="247.2" stroke="#1e1e1e" stroke-width="1.25"/>
<line x1="350.4" y1="199.5" x2="353.4" y2="199.5" stroke="#1e1e1e" stroke-width="1.25"/>
<text x="347.6" y="201.9" font-size="7.8" text-anchor="end" fill="#262626" stroke="#262626" stroke-width="0.12" textLength="21.2" lengthAdjust="spacingAndGlyphs">4×10<tspan font-size="4.84" dy="-2.81">6</tspan></text>
<line x1="350.4" y1="213.1" x2="353.4" y2="213.1" stroke="#1e1e1e" stroke-width="1.25"/>
<text x="347.6" y="215.5" font-size="7.8" text-anchor="end" fill="#262626" stroke="#262626" stroke-width="0.12" textLength="21.2" lengthAdjust="spacingAndGlyphs">3×10<tspan font-size="4.84" dy="-2.81">6</tspan></text>
<line x1="350.4" y1="226.8" x2="353.4" y2="226.8" stroke="#1e1e1e" stroke-width="1.25"/>
<text x="347.6" y="229.20000000000002" font-size="7.8" text-anchor="end" fill="#262626" stroke="#262626" stroke-width="0.12" textLength="21.2" lengthAdjust="spacingAndGlyphs">2×10<tspan font-size="4.84" dy="-2.81">6</tspan></text>
<line x1="350.4" y1="247.2" x2="353.4" y2="247.2" stroke="#1e1e1e" stroke-width="1.25"/>
<text x="347.6" y="249.6" font-size="7.8" text-anchor="end" fill="#262626" stroke="#262626" stroke-width="0.12" textLength="21.2" lengthAdjust="spacingAndGlyphs">1×10<tspan font-size="4.84" dy="-2.81">6</tspan></text>
<line x1="350.4" y1="269.4" x2="353.4" y2="269.4" stroke="#1e1e1e" stroke-width="1.25"/>
<text x="347.6" y="271.79999999999995" font-size="7.8" text-anchor="end" fill="#262626" stroke="#262626" stroke-width="0.12" textLength="21.2" lengthAdjust="spacingAndGlyphs">5×10<tspan font-size="4.84" dy="-2.81">5</tspan></text>
<line x1="350.4" y1="290.8" x2="353.4" y2="290.8" stroke="#1e1e1e" stroke-width="1.25"/>
<text x="347.5" y="293.2" font-size="7.6" text-anchor="end" font-weight="normal" fill="#262626" stroke="#262626" stroke-width="0.2" textLength="4.3" lengthAdjust="spacingAndGlyphs">0</text>
<line x1="353.4" y1="290.8" x2="445.2" y2="290.8" stroke="#1e1e1e" stroke-width="1.25"/>
<line x1="371.6" y1="290.8" x2="371.6" y2="293.3" stroke="#1e1e1e" stroke-width="1.25"/>
<line x1="399.2" y1="290.8" x2="399.2" y2="293.3" stroke="#1e1e1e" stroke-width="1.25"/>
<line x1="426.6" y1="290.8" x2="426.6" y2="293.3" stroke="#1e1e1e" stroke-width="1.25"/>
<text x="371.7" y="303.9" font-size="8" text-anchor="middle" font-weight="normal" fill="#262626" stroke="#262626" stroke-width="0.2" textLength="12.8" lengthAdjust="spacingAndGlyphs">Ctrl</text>
<text x="399.1" y="303.9" font-size="8" text-anchor="middle" font-weight="normal" fill="#262626" stroke="#262626" stroke-width="0.2" textLength="17.5" lengthAdjust="spacingAndGlyphs">CMV</text>
<text x="426.8" y="303.9" font-size="8" text-anchor="middle" font-weight="normal" fill="#262626" stroke="#262626" stroke-width="0.2" textLength="17.5" lengthAdjust="spacingAndGlyphs">CMV</text>
<text x="426.8" y="311.0" font-size="7" text-anchor="middle" font-weight="normal" fill="#262626" stroke="#262626" stroke-width="0.3">+</text>
<text x="426.8" y="318.2" font-size="8" text-anchor="middle" font-weight="normal" fill="#262626" stroke="#262626" stroke-width="0.2" textLength="24.2" lengthAdjust="spacingAndGlyphs">NKdep</text>
<text x="0" y="0" transform="translate(320.6 243.6) rotate(-90)" font-size="8.2" text-anchor="middle" font-weight="normal" fill="#262626" stroke="#262626" stroke-width="0.2" textLength="35.8" lengthAdjust="spacingAndGlyphs">PLC/spleen</text>
<circle cx="368.1" cy="227.7" r="1.75" fill="#163b68"/>
<circle cx="375.6" cy="225.7" r="1.75" fill="#163b68"/>
<circle cx="371.8" cy="232.7" r="1.75" fill="#163b68"/>
<circle cx="369.4" cy="263.3" r="1.75" fill="#163b68"/>
<circle cx="375.6" cy="263.3" r="1.75" fill="#163b68"/>
<circle cx="367.9" cy="275" r="1.75" fill="#163b68"/>
<circle cx="375.6" cy="275" r="1.75" fill="#163b68"/>
<circle cx="367.8" cy="283.3" r="1.75" fill="#163b68"/>
<circle cx="375.4" cy="280.4" r="1.75" fill="#163b68"/>
<line x1="362.8" y1="250.9" x2="380.8" y2="250.9" stroke="#163b68" stroke-width="1.0"/>
<line x1="371.8" y1="238.4" x2="371.8" y2="261.6" stroke="#163b68" stroke-width="1.0"/>
<line x1="367.8" y1="238.4" x2="375.8" y2="238.4" stroke="#163b68" stroke-width="1.0"/>
<line x1="367.8" y1="261.6" x2="375.8" y2="261.6" stroke="#163b68" stroke-width="1.0"/>
<circle cx="399.2" cy="209.8" r="1.75" fill="#b3132f"/>
<circle cx="399" cy="231" r="1.75" fill="#b3132f"/>
<circle cx="395.2" cy="236" r="1.75" fill="#b3132f"/>
<circle cx="403.4" cy="235.2" r="1.75" fill="#b3132f"/>
<circle cx="399.2" cy="256.6" r="1.75" fill="#b3132f"/>
<circle cx="392.2" cy="267" r="1.75" fill="#b3132f"/>
<circle cx="399.7" cy="270" r="1.75" fill="#b3132f"/>
<circle cx="407.2" cy="270" r="1.75" fill="#b3132f"/>
<circle cx="399.2" cy="277" r="1.75" fill="#b3132f"/>
<circle cx="406.7" cy="276.5" r="1.75" fill="#b3132f"/>
<circle cx="399.2" cy="285.7" r="1.75" fill="#b3132f"/>
<line x1="389.9" y1="248.9" x2="408.5" y2="248.9" stroke="#b3132f" stroke-width="1.0"/>
<line x1="399.2" y1="237.2" x2="399.2" y2="260.8" stroke="#b3132f" stroke-width="1.0"/>
<line x1="395.2" y1="237.2" x2="403.2" y2="237.2" stroke="#b3132f" stroke-width="1.0"/>
<line x1="395.2" y1="260.8" x2="403.2" y2="260.8" stroke="#b3132f" stroke-width="1.0"/>
<circle cx="426.6" cy="258.3" r="1.75" fill="#2f9438"/>
<circle cx="426.6" cy="274.5" r="1.75" fill="#2f9438"/>
<circle cx="422" cy="282.5" r="1.75" fill="#2f9438"/>
<circle cx="425" cy="283.5" r="1.75" fill="#2f9438"/>
<circle cx="428.5" cy="282.8" r="1.75" fill="#2f9438"/>
<circle cx="431" cy="284.5" r="1.75" fill="#2f9438"/>
<circle cx="420.5" cy="285.5" r="1.75" fill="#2f9438"/>
<circle cx="423.5" cy="286.5" r="1.75" fill="#2f9438"/>
<circle cx="427" cy="286.8" r="1.75" fill="#2f9438"/>
<circle cx="430" cy="287.5" r="1.75" fill="#2f9438"/>
<circle cx="433" cy="287" r="1.75" fill="#2f9438"/>
<circle cx="421.5" cy="288.8" r="1.75" fill="#2f9438"/>
<circle cx="425.5" cy="289" r="1.75" fill="#2f9438"/>
<circle cx="429" cy="289.2" r="1.75" fill="#2f9438"/>
<circle cx="432.5" cy="289.3" r="1.75" fill="#2f9438"/>
<circle cx="424" cy="284.8" r="1.75" fill="#2f9438"/>
<circle cx="419" cy="281.5" r="1.75" fill="#2f9438"/>
<line x1="418" y1="283.4" x2="436.2" y2="283.4" stroke="#2f9438" stroke-width="1.0"/>
<path d="M371.6 190.0V185.0H426.8V190.0" fill="none" stroke="#2a2a2a" stroke-width="1.35"/>
<path d="M399.20 179.65V181.75M398.29 180.17L400.11 181.22M398.29 181.22L400.11 180.17" stroke="#222" stroke-width="0.8" fill="none"/>
<path d="M399.2 203.6V198.6H426.8V203.6" fill="none" stroke="#2a2a2a" stroke-width="1.35"/>
<path d="M411.00 193.85V195.95M410.09 194.38L411.91 195.43M410.09 195.43L411.91 194.38M415.00 193.85V195.95M414.09 194.38L415.91 195.43M414.09 195.43L415.91 194.38" stroke="#222" stroke-width="0.8" fill="none"/>
<line x1="51.5" y1="365.4" x2="51.5" y2="425.2" stroke="#1e1e1e" stroke-width="1.25"/>
<line x1="49.9" y1="425.2" x2="53.1" y2="425.2" stroke="#1e1e1e" stroke-width="1.25"/>
<line x1="51.5" y1="432.5" x2="51.5" y2="460.5" stroke="#1e1e1e" stroke-width="1.25"/>
<line x1="49.9" y1="432.5" x2="53.1" y2="432.5" stroke="#1e1e1e" stroke-width="1.25"/>
<line x1="48.7" y1="367.7" x2="51.5" y2="367.7" stroke="#1e1e1e" stroke-width="1.25"/>
<text x="44.8" y="370.4" font-size="7.8" text-anchor="end" fill="#262626" stroke="#262626" stroke-width="0.12" textLength="20" lengthAdjust="spacingAndGlyphs">2×10<tspan font-size="4.84" dy="-2.81">7</tspan></text>
<line x1="48.7" y1="382.7" x2="51.5" y2="382.7" stroke="#1e1e1e" stroke-width="1.25"/>
<text x="44.8" y="385.4" font-size="7.8" text-anchor="end" fill="#262626" stroke="#262626" stroke-width="0.12" textLength="25.8" lengthAdjust="spacingAndGlyphs">1.5×10<tspan font-size="4.84" dy="-2.81">7</tspan></text>
<line x1="48.7" y1="397.7" x2="51.5" y2="397.7" stroke="#1e1e1e" stroke-width="1.25"/>
<text x="44.8" y="400.4" font-size="7.8" text-anchor="end" fill="#262626" stroke="#262626" stroke-width="0.12" textLength="20" lengthAdjust="spacingAndGlyphs">1×10<tspan font-size="4.84" dy="-2.81">7</tspan></text>
<line x1="48.7" y1="412.7" x2="51.5" y2="412.7" stroke="#1e1e1e" stroke-width="1.25"/>
<text x="44.8" y="415.4" font-size="7.8" text-anchor="end" fill="#262626" stroke="#262626" stroke-width="0.12" textLength="20" lengthAdjust="spacingAndGlyphs">5×10<tspan font-size="4.84" dy="-2.81">6</tspan></text>
<line x1="48.7" y1="432.5" x2="51.5" y2="432.5" stroke="#1e1e1e" stroke-width="1.25"/>
<text x="44.8" y="435.2" font-size="7.8" text-anchor="end" fill="#262626" stroke="#262626" stroke-width="0.12" textLength="20" lengthAdjust="spacingAndGlyphs">1×10<tspan font-size="4.84" dy="-2.81">6</tspan></text>
<line x1="48.7" y1="460.5" x2="51.5" y2="460.5" stroke="#1e1e1e" stroke-width="1.25"/>
<text x="45.4" y="463.1" font-size="7.6" text-anchor="end" font-weight="normal" fill="#262626" stroke="#262626" stroke-width="0.2" textLength="4.3" lengthAdjust="spacingAndGlyphs">0</text>
<line x1="51.5" y1="460.5" x2="239.2" y2="460.5" stroke="#1e1e1e" stroke-width="1.25"/>
<line x1="65.4" y1="460.5" x2="65.4" y2="463.1" stroke="#1e1e1e" stroke-width="1.25"/>
<line x1="97.08000000000001" y1="460.5" x2="97.08000000000001" y2="463.1" stroke="#1e1e1e" stroke-width="1.25"/>
<line x1="128.76" y1="460.5" x2="128.76" y2="463.1" stroke="#1e1e1e" stroke-width="1.25"/>
<line x1="160.44" y1="460.5" x2="160.44" y2="463.1" stroke="#1e1e1e" stroke-width="1.25"/>
<line x1="192.12" y1="460.5" x2="192.12" y2="463.1" stroke="#1e1e1e" stroke-width="1.25"/>
<line x1="223.8" y1="460.5" x2="223.8" y2="463.1" stroke="#1e1e1e" stroke-width="1.25"/>
<text x="65.4" y="473.2" font-size="7.8" text-anchor="middle" font-weight="normal" fill="#262626" stroke="#262626" stroke-width="0.2" textLength="12.2" lengthAdjust="spacingAndGlyphs">FrA</text>
<text x="97.08000000000001" y="473.2" font-size="7.8" text-anchor="middle" font-weight="normal" fill="#262626" stroke="#262626" stroke-width="0.2" textLength="12.2" lengthAdjust="spacingAndGlyphs">FrB</text>
<text x="128.76" y="473.2" font-size="7.8" text-anchor="middle" font-weight="normal" fill="#262626" stroke="#262626" stroke-width="0.2" textLength="12.6" lengthAdjust="spacingAndGlyphs">FrC</text>
<text x="160.44" y="473.2" font-size="7.8" text-anchor="middle" font-weight="normal" fill="#262626" stroke="#262626" stroke-width="0.2" textLength="12.6" lengthAdjust="spacingAndGlyphs">FrD</text>
<text x="192.12" y="473.2" font-size="7.8" text-anchor="middle" font-weight="normal" fill="#262626" stroke="#262626" stroke-width="0.2" textLength="12.2" lengthAdjust="spacingAndGlyphs">FrE</text>
<text x="223.8" y="473.2" font-size="7.8" text-anchor="middle" font-weight="normal" fill="#262626" stroke="#262626" stroke-width="0.2" textLength="12.2" lengthAdjust="spacingAndGlyphs">FrF</text>
<text x="0" y="0" transform="translate(14.8 412.7) rotate(-90)" font-size="7.8" text-anchor="middle" font-weight="normal" fill="#262626" stroke="#262626" stroke-width="0.2" textLength="53.3" lengthAdjust="spacingAndGlyphs">Number of cells</text>
<text x="145" y="359.6" font-size="10.0" text-anchor="middle" font-weight="normal" fill="#262626" stroke="#262626" stroke-width="0.2" textLength="28.8" lengthAdjust="spacingAndGlyphs">Spleen</text>
<line x1="294.4" y1="365.4" x2="294.4" y2="410.5" stroke="#1e1e1e" stroke-width="1.25"/>
<line x1="292.79999999999995" y1="410.5" x2="296.0" y2="410.5" stroke="#1e1e1e" stroke-width="1.25"/>
<line x1="294.4" y1="417.3" x2="294.4" y2="460.5" stroke="#1e1e1e" stroke-width="1.25"/>
<line x1="292.79999999999995" y1="417.3" x2="296.0" y2="417.3" stroke="#1e1e1e" stroke-width="1.25"/>
<line x1="291.59999999999997" y1="368.0" x2="294.4" y2="368.0" stroke="#1e1e1e" stroke-width="1.25"/>
<text x="289.2" y="370.7" font-size="7.8" text-anchor="end" fill="#262626" stroke="#262626" stroke-width="0.12" textLength="21" lengthAdjust="spacingAndGlyphs">1×10<tspan font-size="4.84" dy="-2.81">6</tspan></text>
<line x1="291.59999999999997" y1="384.0" x2="294.4" y2="384.0" stroke="#1e1e1e" stroke-width="1.25"/>
<text x="289.2" y="386.7" font-size="7.8" text-anchor="end" fill="#262626" stroke="#262626" stroke-width="0.12" textLength="21" lengthAdjust="spacingAndGlyphs">7×10<tspan font-size="4.84" dy="-2.81">5</tspan></text>
<line x1="291.59999999999997" y1="399.8" x2="294.4" y2="399.8" stroke="#1e1e1e" stroke-width="1.25"/>
<text x="289.2" y="402.5" font-size="7.8" text-anchor="end" fill="#262626" stroke="#262626" stroke-width="0.12" textLength="21" lengthAdjust="spacingAndGlyphs">4×10<tspan font-size="4.84" dy="-2.81">5</tspan></text>
<line x1="291.59999999999997" y1="417.3" x2="294.4" y2="417.3" stroke="#1e1e1e" stroke-width="1.25"/>
<text x="289.2" y="420.0" font-size="7.8" text-anchor="end" fill="#262626" stroke="#262626" stroke-width="0.12" textLength="21" lengthAdjust="spacingAndGlyphs">2×10<tspan font-size="4.84" dy="-2.81">5</tspan></text>
<line x1="291.59999999999997" y1="439.3" x2="294.4" y2="439.3" stroke="#1e1e1e" stroke-width="1.25"/>
<text x="289.2" y="442.0" font-size="7.8" text-anchor="end" fill="#262626" stroke="#262626" stroke-width="0.12" textLength="21" lengthAdjust="spacingAndGlyphs">1×10<tspan font-size="4.84" dy="-2.81">5</tspan></text>
<line x1="291.59999999999997" y1="460.5" x2="294.4" y2="460.5" stroke="#1e1e1e" stroke-width="1.25"/>
<text x="289.8" y="463.1" font-size="7.6" text-anchor="end" font-weight="normal" fill="#262626" stroke="#262626" stroke-width="0.2" textLength="4.3" lengthAdjust="spacingAndGlyphs">0</text>
<line x1="294.4" y1="460.5" x2="481.3" y2="460.5" stroke="#1e1e1e" stroke-width="1.25"/>
<line x1="308.1" y1="460.5" x2="308.1" y2="463.1" stroke="#1e1e1e" stroke-width="1.25"/>
<line x1="339.86" y1="460.5" x2="339.86" y2="463.1" stroke="#1e1e1e" stroke-width="1.25"/>
<line x1="371.62" y1="460.5" x2="371.62" y2="463.1" stroke="#1e1e1e" stroke-width="1.25"/>
<line x1="403.38" y1="460.5" x2="403.38" y2="463.1" stroke="#1e1e1e" stroke-width="1.25"/>
<line x1="435.14000000000004" y1="460.5" x2="435.14000000000004" y2="463.1" stroke="#1e1e1e" stroke-width="1.25"/>
<line x1="466.90000000000003" y1="460.5" x2="466.90000000000003" y2="463.1" stroke="#1e1e1e" stroke-width="1.25"/>
<text x="308.1" y="473.2" font-size="7.8" text-anchor="middle" font-weight="normal" fill="#262626" stroke="#262626" stroke-width="0.2" textLength="12.2" lengthAdjust="spacingAndGlyphs">FrA</text>
<text x="339.86" y="473.2" font-size="7.8" text-anchor="middle" font-weight="normal" fill="#262626" stroke="#262626" stroke-width="0.2" textLength="12.2" lengthAdjust="spacingAndGlyphs">FrB</text>
<text x="371.62" y="473.2" font-size="7.8" text-anchor="middle" font-weight="normal" fill="#262626" stroke="#262626" stroke-width="0.2" textLength="12.6" lengthAdjust="spacingAndGlyphs">FrC</text>
<text x="403.38" y="473.2" font-size="7.8" text-anchor="middle" font-weight="normal" fill="#262626" stroke="#262626" stroke-width="0.2" textLength="12.6" lengthAdjust="spacingAndGlyphs">FrD</text>
<text x="435.14000000000004" y="473.2" font-size="7.8" text-anchor="middle" font-weight="normal" fill="#262626" stroke="#262626" stroke-width="0.2" textLength="12.2" lengthAdjust="spacingAndGlyphs">FrE</text>
<text x="466.90000000000003" y="473.2" font-size="7.8" text-anchor="middle" font-weight="normal" fill="#262626" stroke="#262626" stroke-width="0.2" textLength="12.2" lengthAdjust="spacingAndGlyphs">FrF</text>
<text x="0" y="0" transform="translate(261.3 412.3) rotate(-90)" font-size="7.8" text-anchor="middle" font-weight="normal" fill="#262626" stroke="#262626" stroke-width="0.2" textLength="53.3" lengthAdjust="spacingAndGlyphs">Number of cells</text>
<text x="388.3" y="359.6" font-size="10.0" text-anchor="middle" font-weight="normal" fill="#262626" stroke="#262626" stroke-width="0.2" textLength="57.2" lengthAdjust="spacingAndGlyphs">Bone marrow</text>
<circle cx="58" cy="451.5" r="1.6" fill="#163b68"/>
<circle cx="60.5" cy="449" r="1.6" fill="#163b68"/>
<circle cx="62.5" cy="450.5" r="1.6" fill="#163b68"/>
<circle cx="59" cy="454.5" r="1.6" fill="#163b68"/>
<circle cx="61.5" cy="453" r="1.6" fill="#163b68"/>
<circle cx="56.5" cy="455.5" r="1.6" fill="#163b68"/>
<circle cx="60" cy="452" r="1.6" fill="#163b68"/>
<line x1="56" y1="451.8" x2="63.5" y2="451.8" stroke="#4a82c0" stroke-width="0.9"/>
<rect x="69.00" y="431.80" width="3.0" height="3.0" fill="#c4102c"/>
<rect x="72.00" y="433.30" width="3.0" height="3.0" fill="#c4102c"/>
<rect x="67.00" y="436.00" width="3.0" height="3.0" fill="#c4102c"/>
<rect x="70.50" y="436.50" width="3.0" height="3.0" fill="#c4102c"/>
<rect x="73.00" y="438.00" width="3.0" height="3.0" fill="#c4102c"/>
<rect x="68.00" y="439.00" width="3.0" height="3.0" fill="#c4102c"/>
<rect x="71.00" y="439.50" width="3.0" height="3.0" fill="#c4102c"/>
<rect x="69.00" y="437.50" width="3.0" height="3.0" fill="#c4102c"/>
<line x1="67.5" y1="438.5" x2="75.5" y2="438.5" stroke="#c4102c" stroke-width="0.9"/>
<circle cx="88.6" cy="423.6" r="1.6" fill="#163b68"/>
<circle cx="90.5" cy="422.8" r="1.6" fill="#163b68"/>
<circle cx="92.5" cy="423.6" r="1.6" fill="#163b68"/>
<circle cx="93.8" cy="423.4" r="1.6" fill="#163b68"/>
<circle cx="89.8" cy="424.8" r="1.6" fill="#163b68"/>
<circle cx="92.2" cy="424.9" r="1.6" fill="#163b68"/>
<circle cx="91" cy="423.5" r="1.6" fill="#163b68"/>
<rect x="98.50" y="421.70" width="3.0" height="3.0" fill="#c4102c"/>
<rect x="100.30" y="420.80" width="3.0" height="3.0" fill="#c4102c"/>
<rect x="102.30" y="421.30" width="3.0" height="3.0" fill="#c4102c"/>
<rect x="104.10" y="422.10" width="3.0" height="3.0" fill="#c4102c"/>
<rect x="99.10" y="423.30" width="3.0" height="3.0" fill="#c4102c"/>
<rect x="102.70" y="423.30" width="3.0" height="3.0" fill="#c4102c"/>
<rect x="101.10" y="422.30" width="3.0" height="3.0" fill="#c4102c"/>
<circle cx="120.5" cy="419.5" r="1.6" fill="#163b68"/>
<circle cx="122.5" cy="417.5" r="1.6" fill="#163b68"/>
<circle cx="124.8" cy="418.5" r="1.6" fill="#163b68"/>
<circle cx="125.4" cy="421" r="1.6" fill="#163b68"/>
<circle cx="121.2" cy="421.8" r="1.6" fill="#163b68"/>
<circle cx="123.5" cy="420.8" r="1.6" fill="#163b68"/>
<circle cx="122.8" cy="435.9" r="1.6" fill="#163b68"/>
<circle cx="122.8" cy="444.2" r="1.6" fill="#163b68"/>
<line x1="120" y1="420" x2="126" y2="420" stroke="#4a82c0" stroke-width="0.9"/>
<rect x="131.00" y="456.00" width="3.0" height="3.0" fill="#c4102c"/>
<rect x="133.00" y="454.90" width="3.0" height="3.0" fill="#c4102c"/>
<rect x="135.00" y="455.70" width="3.0" height="3.0" fill="#c4102c"/>
<rect x="135.90" y="457.10" width="3.0" height="3.0" fill="#c4102c"/>
<rect x="131.90" y="457.30" width="3.0" height="3.0" fill="#c4102c"/>
<rect x="134.00" y="457.50" width="3.0" height="3.0" fill="#c4102c"/>
<circle cx="154.8" cy="446.1" r="1.6" fill="#163b68"/>
<circle cx="156.8" cy="450.7" r="1.6" fill="#163b68"/>
<circle cx="152.5" cy="453.6" r="1.6" fill="#163b68"/>
<circle cx="155.1" cy="454.4" r="1.6" fill="#163b68"/>
<circle cx="157.1" cy="456.7" r="1.6" fill="#163b68"/>
<circle cx="152.5" cy="457.9" r="1.6" fill="#163b68"/>
<circle cx="154.5" cy="451.5" r="1.6" fill="#163b68"/>
<line x1="150.5" y1="454" x2="158" y2="454" stroke="#4a82c0" stroke-width="0.9"/>
<rect x="164.30" y="447.90" width="3.0" height="3.0" fill="#c4102c"/>
<rect x="162.50" y="452.10" width="3.0" height="3.0" fill="#c4102c"/>
<rect x="166.60" y="450.60" width="3.0" height="3.0" fill="#c4102c"/>
<rect x="162.50" y="455.10" width="3.0" height="3.0" fill="#c4102c"/>
<rect x="167.70" y="455.20" width="3.0" height="3.0" fill="#c4102c"/>
<rect x="164.90" y="455.20" width="3.0" height="3.0" fill="#c4102c"/>
<rect x="164.70" y="452.00" width="3.0" height="3.0" fill="#c4102c"/>
<circle cx="186.4" cy="396.7" r="1.6" fill="#163b68"/>
<circle cx="184.2" cy="402.9" r="1.6" fill="#163b68"/>
<circle cx="188.3" cy="405.3" r="1.6" fill="#163b68"/>
<circle cx="185.5" cy="407.5" r="1.6" fill="#163b68"/>
<circle cx="188.6" cy="411.9" r="1.6" fill="#163b68"/>
<circle cx="184.5" cy="415" r="1.6" fill="#163b68"/>
<line x1="182.20000000000002" y1="406.9" x2="190.6" y2="406.9" stroke="#163b68" stroke-width="1.0"/>
<line x1="186.4" y1="404.5" x2="186.4" y2="409.5" stroke="#163b68" stroke-width="1.0"/>
<line x1="184.20000000000002" y1="404.5" x2="188.6" y2="404.5" stroke="#163b68" stroke-width="1.0"/>
<line x1="184.20000000000002" y1="409.5" x2="188.6" y2="409.5" stroke="#163b68" stroke-width="1.0"/>
<rect x="196.40" y="409.20" width="3.0" height="3.0" fill="#c4102c"/>
<rect x="194.50" y="412.00" width="3.0" height="3.0" fill="#c4102c"/>
<rect x="199.50" y="411.70" width="3.0" height="3.0" fill="#c4102c"/>
<rect x="195.80" y="414.80" width="3.0" height="3.0" fill="#c4102c"/>
<rect x="196.40" y="417.30" width="3.0" height="3.0" fill="#c4102c"/>
<rect x="198.00" y="410.00" width="3.0" height="3.0" fill="#c4102c"/>
<rect x="197.70" y="413.50" width="3.0" height="3.0" fill="#c4102c"/>
<line x1="195" y1="413.8" x2="201.5" y2="413.8" stroke="#c4102c" stroke-width="0.9"/>
<circle cx="218.2" cy="374.6" r="1.6" fill="#163b68"/>
<circle cx="218.2" cy="381.9" r="1.6" fill="#163b68"/>
<circle cx="218.2" cy="389.9" r="1.6" fill="#163b68"/>
<circle cx="218.2" cy="399.4" r="1.6" fill="#163b68"/>
<circle cx="220" cy="404.3" r="1.6" fill="#163b68"/>
<circle cx="215.9" cy="406.7" r="1.6" fill="#163b68"/>
<line x1="214.1" y1="392.6" x2="222.29999999999998" y2="392.6" stroke="#163b68" stroke-width="1.0"/>
<line x1="218.2" y1="387.6" x2="218.2" y2="397.4" stroke="#163b68" stroke-width="1.0"/>
<line x1="216.7" y1="387.6" x2="219.7" y2="387.6" stroke="#163b68" stroke-width="1.0"/>
<line x1="216.7" y1="397.4" x2="219.7" y2="397.4" stroke="#163b68" stroke-width="1.0"/>
<rect x="226.30" y="373.30" width="3.0" height="3.0" fill="#c4102c"/>
<rect x="230.80" y="374.70" width="3.0" height="3.0" fill="#c4102c"/>
<rect x="228.10" y="376.10" width="3.0" height="3.0" fill="#c4102c"/>
<rect x="229.80" y="373.10" width="3.0" height="3.0" fill="#c4102c"/>
<rect x="228.10" y="383.40" width="3.0" height="3.0" fill="#c4102c"/>
<rect x="228.10" y="389.70" width="3.0" height="3.0" fill="#c4102c"/>
<line x1="226.0" y1="382.1" x2="234.2" y2="382.1" stroke="#c4102c" stroke-width="1.0"/>
<line x1="230.1" y1="379.5" x2="230.1" y2="385" stroke="#c4102c" stroke-width="1.0"/>
<line x1="228.6" y1="379.5" x2="231.6" y2="379.5" stroke="#c4102c" stroke-width="1.0"/>
<line x1="228.6" y1="385" x2="231.6" y2="385" stroke="#c4102c" stroke-width="1.0"/>
<path d="M59.4 408.7V405.5H71.6V408.7" fill="none" stroke="#2a2a2a" stroke-width="1.35"/>
<path d="M65.50 400.05V402.15M64.59 400.58L66.41 401.62M64.59 401.62L66.41 400.58" stroke="#222" stroke-width="0.8" fill="none"/>
<path d="M122.9 408.7V405.5H135V408.7" fill="none" stroke="#2a2a2a" stroke-width="1.35"/>
<path d="M128.95 400.05V402.15M128.04 400.58L129.86 401.62M128.04 401.62L129.86 400.58" stroke="#222" stroke-width="0.8" fill="none"/>
<circle cx="302.3" cy="436" r="1.5" fill="#163b68"/>
<circle cx="299.7" cy="450.1" r="1.5" fill="#163b68"/>
<circle cx="305" cy="449.4" r="1.5" fill="#163b68"/>
<circle cx="301.6" cy="451.6" r="1.5" fill="#163b68"/>
<circle cx="299.7" cy="456.1" r="1.5" fill="#163b68"/>
<circle cx="304.8" cy="455" r="1.5" fill="#163b68"/>
<circle cx="302.5" cy="453.5" r="1.5" fill="#163b68"/>
<line x1="299.90000000000003" y1="448.6" x2="304.7" y2="448.6" stroke="#4a82c0" stroke-width="0.9"/>
<line x1="302.3" y1="447.2" x2="302.3" y2="451.5" stroke="#4a82c0" stroke-width="0.9"/>
<line x1="300.8" y1="447.2" x2="303.8" y2="447.2" stroke="#4a82c0" stroke-width="0.9"/>
<line x1="300.8" y1="451.5" x2="303.8" y2="451.5" stroke="#4a82c0" stroke-width="0.9"/>
<rect x="312.90" y="427.70" width="2.8" height="2.8" fill="#c4102c"/>
<rect x="312.50" y="437.50" width="2.8" height="2.8" fill="#c4102c"/>
<rect x="309.90" y="440.50" width="2.8" height="2.8" fill="#c4102c"/>
<rect x="314.60" y="439.80" width="2.8" height="2.8" fill="#c4102c"/>
<rect x="312.50" y="442.80" width="2.8" height="2.8" fill="#c4102c"/>
<rect x="312.90" y="446.90" width="2.8" height="2.8" fill="#c4102c"/>
<line x1="310.5" y1="441.9" x2="318" y2="441.9" stroke="#c4102c" stroke-width="0.9"/>
<circle cx="331" cy="405.9" r="1.5" fill="#163b68"/>
<circle cx="336.8" cy="405.9" r="1.5" fill="#163b68"/>
<circle cx="333.5" cy="408.4" r="1.5" fill="#163b68"/>
<circle cx="335.6" cy="409.7" r="1.5" fill="#163b68"/>
<circle cx="331.5" cy="408.8" r="1.5" fill="#163b68"/>
<circle cx="333.9" cy="422.1" r="1.5" fill="#163b68"/>
<line x1="329.3" y1="408" x2="337.6" y2="408" stroke="#163b68" stroke-width="0.9"/>
<rect x="341.60" y="390.60" width="2.8" height="2.8" fill="#c4102c"/>
<rect x="346.90" y="392.70" width="2.8" height="2.8" fill="#c4102c"/>
<rect x="341.60" y="395.40" width="2.8" height="2.8" fill="#c4102c"/>
<rect x="344.50" y="400.80" width="2.8" height="2.8" fill="#c4102c"/>
<rect x="341.60" y="404.50" width="2.8" height="2.8" fill="#c4102c"/>
<rect x="347.00" y="404.50" width="2.8" height="2.8" fill="#c4102c"/>
<rect x="344.50" y="408.30" width="2.8" height="2.8" fill="#c4102c"/>
<line x1="342.09999999999997" y1="401.4" x2="349.7" y2="401.4" stroke="#c4102c" stroke-width="0.9"/>
<line x1="345.9" y1="398.5" x2="345.9" y2="404" stroke="#c4102c" stroke-width="0.9"/>
<line x1="343.9" y1="398.5" x2="347.9" y2="398.5" stroke="#c4102c" stroke-width="0.9"/>
<line x1="343.9" y1="404" x2="347.9" y2="404" stroke="#c4102c" stroke-width="0.9"/>
<circle cx="365.6" cy="404.6" r="1.5" fill="#163b68"/>
<circle cx="365.6" cy="425.2" r="1.5" fill="#163b68"/>
<circle cx="362.9" cy="433.6" r="1.5" fill="#163b68"/>
<circle cx="368.2" cy="433.6" r="1.5" fill="#163b68"/>
<circle cx="368.2" cy="445.8" r="1.5" fill="#163b68"/>
<circle cx="362.9" cy="448.5" r="1.5" fill="#163b68"/>
<line x1="361.6" y1="430.1" x2="369.6" y2="430.1" stroke="#163b68" stroke-width="0.9"/>
<line x1="365.6" y1="422.2" x2="365.6" y2="438.1" stroke="#163b68" stroke-width="0.9"/>
<line x1="363.8" y1="422.2" x2="367.40000000000003" y2="422.2" stroke="#163b68" stroke-width="0.9"/>
<line x1="363.8" y1="438.1" x2="367.40000000000003" y2="438.1" stroke="#163b68" stroke-width="0.9"/>
<rect x="376.10" y="453.80" width="2.8" height="2.8" fill="#c4102c"/>
<rect x="374.10" y="455.90" width="2.8" height="2.8" fill="#c4102c"/>
<rect x="378.10" y="455.90" width="2.8" height="2.8" fill="#c4102c"/>
<rect x="376.10" y="457.40" width="2.8" height="2.8" fill="#c4102c"/>
<rect x="373.10" y="457.80" width="2.8" height="2.8" fill="#c4102c"/>
<rect x="379.10" y="457.80" width="2.8" height="2.8" fill="#c4102c"/>
<circle cx="397.3" cy="380.9" r="1.5" fill="#163b68"/>
<circle cx="397.3" cy="387.4" r="1.5" fill="#163b68"/>
<circle cx="394.5" cy="394.7" r="1.5" fill="#163b68"/>
<circle cx="400.3" cy="394.4" r="1.5" fill="#163b68"/>
<circle cx="397.3" cy="404" r="1.5" fill="#163b68"/>
<circle cx="397.3" cy="409.3" r="1.5" fill="#163b68"/>
<line x1="393.90000000000003" y1="395.3" x2="400.7" y2="395.3" stroke="#163b68" stroke-width="0.9"/>
<line x1="397.3" y1="390.8" x2="397.3" y2="399.2" stroke="#163b68" stroke-width="0.9"/>
<line x1="395.7" y1="390.8" x2="398.90000000000003" y2="390.8" stroke="#163b68" stroke-width="0.9"/>
<line x1="395.7" y1="399.2" x2="398.90000000000003" y2="399.2" stroke="#163b68" stroke-width="0.9"/>
<rect x="407.90" y="382.90" width="2.8" height="2.8" fill="#c4102c"/>
<rect x="405.20" y="392.80" width="2.8" height="2.8" fill="#c4102c"/>
<rect x="410.40" y="394.40" width="2.8" height="2.8" fill="#c4102c"/>
<rect x="405.20" y="401.50" width="2.8" height="2.8" fill="#c4102c"/>
<rect x="410.40" y="404.50" width="2.8" height="2.8" fill="#c4102c"/>
<rect x="407.90" y="421.90" width="2.8" height="2.8" fill="#c4102c"/>
<line x1="405.70000000000005" y1="399.5" x2="413.5" y2="399.5" stroke="#c4102c" stroke-width="0.9"/>
<line x1="409.6" y1="397" x2="409.6" y2="401.4" stroke="#c4102c" stroke-width="0.9"/>
<line x1="408.0" y1="397" x2="411.20000000000005" y2="397" stroke="#c4102c" stroke-width="0.9"/>
<line x1="408.0" y1="401.4" x2="411.20000000000005" y2="401.4" stroke="#c4102c" stroke-width="0.9"/>
<circle cx="429" cy="388.6" r="1.5" fill="#163b68"/>
<circle cx="429" cy="397.9" r="1.5" fill="#163b68"/>
<circle cx="426.4" cy="401.9" r="1.5" fill="#163b68"/>
<circle cx="432" cy="401.9" r="1.5" fill="#163b68"/>
<circle cx="429" cy="404.6" r="1.5" fill="#163b68"/>
<circle cx="429" cy="410.3" r="1.5" fill="#163b68"/>
<circle cx="429" cy="418.1" r="1.5" fill="#163b68"/>
<line x1="425.4" y1="402.6" x2="432.6" y2="402.6" stroke="#163b68" stroke-width="0.9"/>
<line x1="429" y1="399.5" x2="429" y2="405.5" stroke="#163b68" stroke-width="0.9"/>
<line x1="427.4" y1="399.5" x2="430.6" y2="399.5" stroke="#163b68" stroke-width="0.9"/>
<line x1="427.4" y1="405.5" x2="430.6" y2="405.5" stroke="#163b68" stroke-width="0.9"/>
<rect x="439.60" y="399.80" width="2.8" height="2.8" fill="#c4102c"/>
<rect x="439.60" y="404.50" width="2.8" height="2.8" fill="#c4102c"/>
<rect x="437.20" y="417.10" width="2.8" height="2.8" fill="#c4102c"/>
<rect x="442.50" y="417.80" width="2.8" height="2.8" fill="#c4102c"/>
<rect x="439.60" y="418.40" width="2.8" height="2.8" fill="#c4102c"/>
<rect x="439.60" y="425.70" width="2.8" height="2.8" fill="#c4102c"/>
<rect x="439.60" y="436.40" width="2.8" height="2.8" fill="#c4102c"/>
<line x1="436.7" y1="409.2" x2="445.3" y2="409.2" stroke="#c4102c" stroke-width="0.9"/>
<line x1="441" y1="405" x2="441" y2="416" stroke="#c4102c" stroke-width="0.9"/>
<line x1="439.5" y1="405" x2="442.5" y2="405" stroke="#c4102c" stroke-width="0.9"/>
<line x1="439.5" y1="416" x2="442.5" y2="416" stroke="#c4102c" stroke-width="0.9"/>
<circle cx="457.8" cy="442.9" r="1.5" fill="#163b68"/>
<circle cx="460.9" cy="444.7" r="1.5" fill="#163b68"/>
<circle cx="460.7" cy="454.5" r="1.5" fill="#163b68"/>
<circle cx="463.5" cy="453.3" r="1.5" fill="#163b68"/>
<circle cx="458.1" cy="457.8" r="1.5" fill="#163b68"/>
<circle cx="463.5" cy="457.6" r="1.5" fill="#163b68"/>
<line x1="456.90000000000003" y1="452.2" x2="464.3" y2="452.2" stroke="#163b68" stroke-width="0.9"/>
<line x1="460.6" y1="449.6" x2="460.6" y2="455" stroke="#163b68" stroke-width="0.9"/>
<line x1="459.0" y1="449.6" x2="462.20000000000005" y2="449.6" stroke="#163b68" stroke-width="0.9"/>
<line x1="459.0" y1="455" x2="462.20000000000005" y2="455" stroke="#163b68" stroke-width="0.9"/>
<rect x="471.40" y="447.20" width="2.8" height="2.8" fill="#c4102c"/>
<rect x="469.60" y="449.40" width="2.8" height="2.8" fill="#c4102c"/>
<rect x="473.20" y="449.40" width="2.8" height="2.8" fill="#c4102c"/>
<rect x="468.60" y="451.60" width="2.8" height="2.8" fill="#c4102c"/>
<rect x="471.40" y="451.40" width="2.8" height="2.8" fill="#c4102c"/>
<rect x="474.20" y="451.60" width="2.8" height="2.8" fill="#c4102c"/>
<path d="M364.4 392V388H376.8V392" fill="none" stroke="#2a2a2a" stroke-width="1.35"/>
<path d="M370.60 382.55V384.65M369.69 383.08L371.51 384.12M369.69 384.12L371.51 383.08" stroke="#222" stroke-width="0.8" fill="none"/>
<circle cx="483.3" cy="407.2" r="1.65" fill="#163b68"/>
<text x="488" y="409.3" font-size="7.8" text-anchor="start" font-weight="normal" fill="#262626" stroke="#262626" stroke-width="0.2" textLength="25" lengthAdjust="spacingAndGlyphs">Control</text>
<rect x="481.10" y="416.50" width="3.4" height="3.4" fill="#c4102c"/>
<text x="488" y="420.4" font-size="7.8" text-anchor="start" font-weight="normal" fill="#262626" stroke="#262626" stroke-width="0.2">CMV</text>
<rect x="0.5" y="0.5" width="519" height="481" fill="none" stroke="#575757" stroke-width="1"/>
</svg></body></html>
